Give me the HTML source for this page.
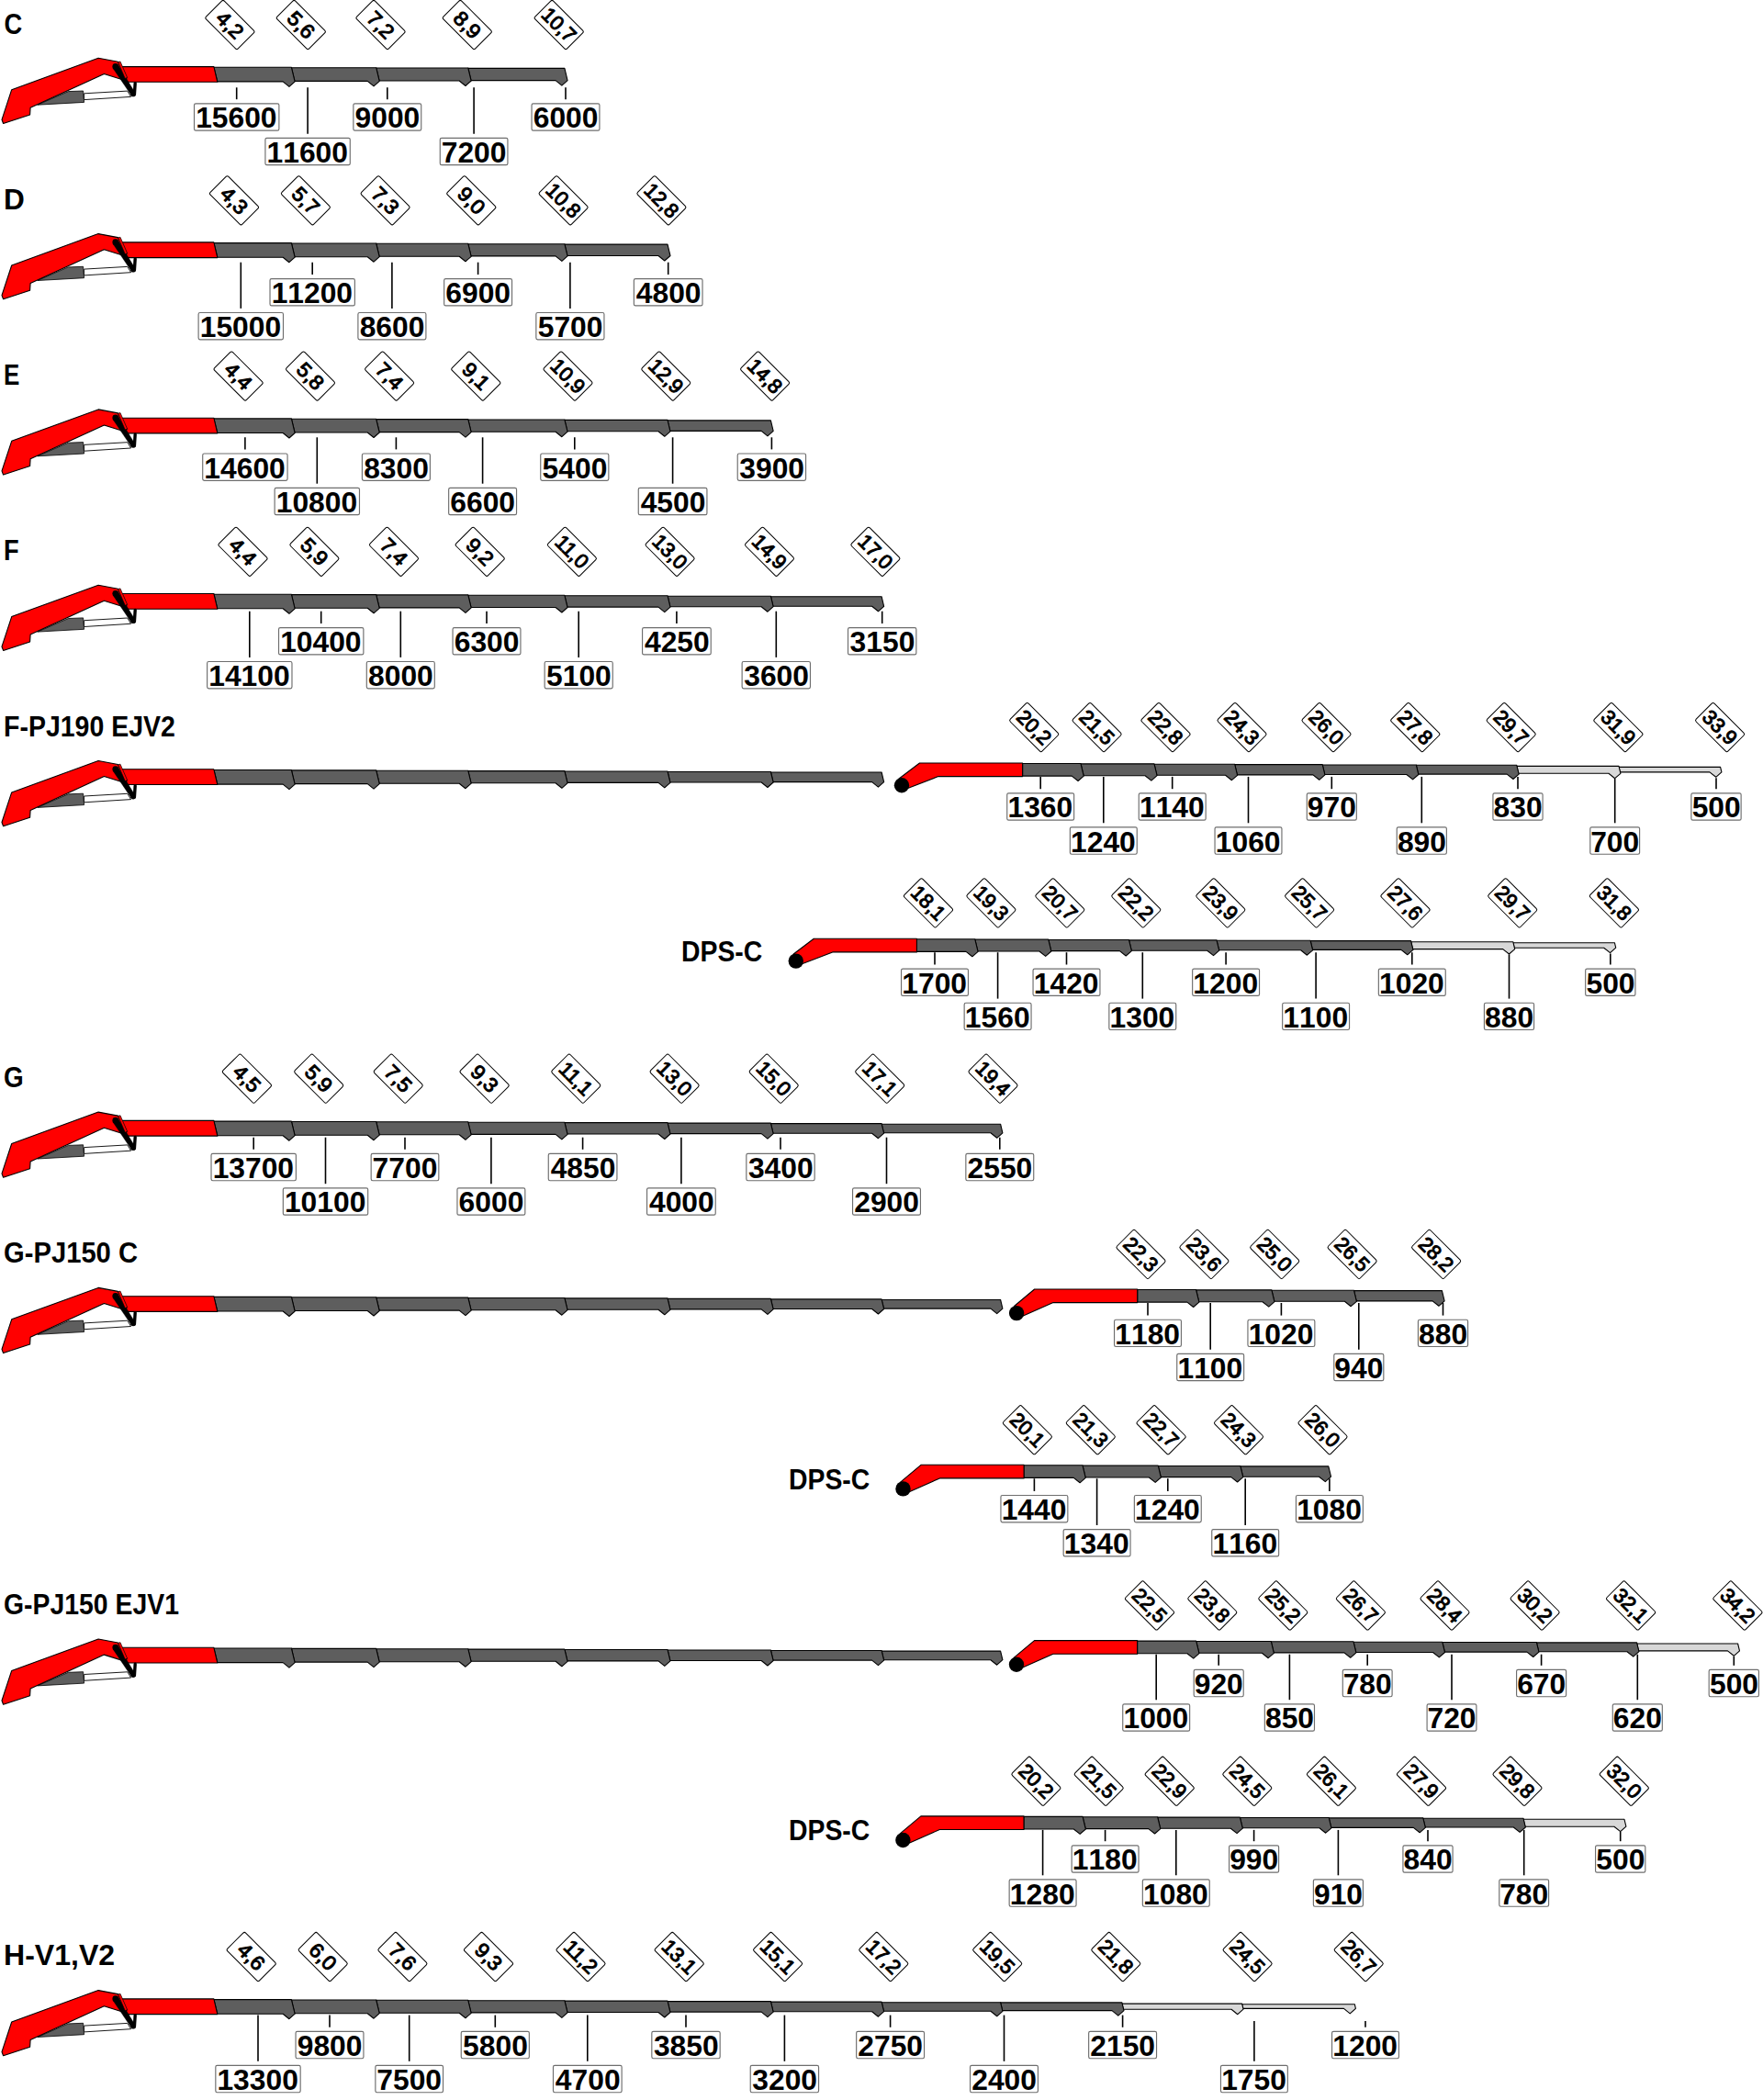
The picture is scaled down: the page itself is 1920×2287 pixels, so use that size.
<!DOCTYPE html>
<html><head><meta charset="utf-8"><title>Load chart</title>
<style>
html,body{margin:0;padding:0;background:#fff}
svg{display:block}
text{font-family:"Liberation Sans",Arial,sans-serif;fill:#000}
.t{font-weight:bold;font-size:31px}
.v{font-weight:bold;font-size:31.8px;font-kerning:none}
.d{font-size:22px;text-anchor:middle;stroke:#000;stroke-width:1.05px;stroke-linejoin:round}
</style></head><body>
<svg width="1920" height="2287" viewBox="0 0 1920 2287">
<rect width="1920" height="2287" fill="#fff"/>
<polygon points="509.8,74.4 614.9,74.4 618.07,87.6 611.87,93.1 605.07,87.6 512.97,87.6" fill="#5e5e5e" stroke="#000" stroke-width="1.1" stroke-linejoin="round"/>
<polygon points="409.7,74 509.8,74 513.16,88 506.96,93.5 500.16,88 413.06,88" fill="#5e5e5e" stroke="#000" stroke-width="1.1" stroke-linejoin="round"/>
<polygon points="317.4,73.7 409.7,73.7 413.23,88.4 407.03,93.9 400.23,88.4 320.93,88.4" fill="#5e5e5e" stroke="#000" stroke-width="1.1" stroke-linejoin="round"/>
<polygon points="232.9,73.3 317.4,73.3 321.14,88.9 314.94,94.4 308.14,88.9 236.8,88.9" fill="#5e5e5e" stroke="#000" stroke-width="1.1" stroke-linejoin="round"/>
<polygon points="40.8,114.2 74.4,99.6 90.6,99 91.6,111.4" fill="#5e5e5e" stroke="#000" stroke-width="0.8" stroke-linejoin="round"/>
<polygon points="91.6,101.8 138.8,99.1 142.6,105.4 91.6,108.6" fill="#fff" stroke="#000" stroke-width="0.9" stroke-linejoin="round"/>
<polygon points="128.4,72.6 232.9,72.6 236.8,89.3 137.5,89.3" fill="#ff0000" stroke="#000" stroke-width="1.1" stroke-linejoin="round"/>
<polygon points="2,130.3 12.7,97.7 107.1,63.3 128.4,67.3 138.2,85 132.6,86.4 113.4,80.4 33.1,117.2 32.6,125 3.6,134.5" fill="#ff0000" stroke="#000" stroke-width="1.1" stroke-linejoin="round"/>
<polygon points="122.94,74.23 142.89,103.75 147.11,101.05 128.66,70.57" fill="#000" stroke="#000" stroke-width="0.3" stroke-linejoin="round"/>
<circle cx="125.8" cy="72.4" r="3.4"/><circle cx="145" cy="102.4" r="2.8"/>
<path d="M147.2 90.6 L146.4 102.9" stroke="#000" stroke-width="3.4" stroke-linecap="round" fill="none"/>
<polygon points="128.6,67.6 131,67 138.6,84.4 136.2,85.4" fill="#ff0000" stroke="#000" stroke-width="0.7" stroke-linejoin="round"/>
<text class="t" transform="translate(4.6 36.5) scale(0.88 1)">C</text>
<g transform="translate(250.4 27) rotate(45)"><rect x="-24.6" y="-14" width="49.2" height="28" rx="2" fill="#fff" stroke="#000" stroke-width="1"/><text class="d" transform="scale(1.04 1)" y="7.6">4,2</text></g>
<path d="M257.7 95.3V108.2" stroke="#000" stroke-width="1.6"/>
<rect x="211.52" y="112.8" width="92.36" height="29.3" rx="1.7" fill="#fff" stroke="#6e6e6e" stroke-width="1.15"/>
<text class="v" x="213.13" y="139.4">15600</text>
<g transform="translate(327.8 27) rotate(45)"><rect x="-24.6" y="-14" width="49.2" height="28" rx="2" fill="#fff" stroke="#000" stroke-width="1"/><text class="d" transform="scale(1.04 1)" y="7.6">5,6</text></g>
<path d="M335.1 95.3V145.7" stroke="#000" stroke-width="1.6"/>
<rect x="288.92" y="150.3" width="92.36" height="29.3" rx="1.7" fill="#fff" stroke="#6e6e6e" stroke-width="1.15"/>
<text class="v" x="290.53" y="176.9">11600</text>
<g transform="translate(414.5 27) rotate(45)"><rect x="-24.6" y="-14" width="49.2" height="28" rx="2" fill="#fff" stroke="#000" stroke-width="1"/><text class="d" transform="scale(1.04 1)" y="7.6">7,2</text></g>
<path d="M421.8 95.3V108.2" stroke="#000" stroke-width="1.6"/>
<rect x="384.85" y="112.8" width="73.89" height="29.3" rx="1.7" fill="#fff" stroke="#6e6e6e" stroke-width="1.15"/>
<text class="v" x="386.52" y="139.4">9000</text>
<g transform="translate(508.8 27) rotate(45)"><rect x="-24.6" y="-14" width="49.2" height="28" rx="2" fill="#fff" stroke="#000" stroke-width="1"/><text class="d" transform="scale(1.04 1)" y="7.6">8,9</text></g>
<path d="M516.1 95.3V145.7" stroke="#000" stroke-width="1.6"/>
<rect x="479.26" y="150.3" width="73.67" height="29.3" rx="1.7" fill="#fff" stroke="#6e6e6e" stroke-width="1.15"/>
<text class="v" x="480.72" y="176.9">7200</text>
<g transform="translate(608.7 27) rotate(45)"><rect x="-24.6" y="-14" width="49.2" height="28" rx="2" fill="#fff" stroke="#000" stroke-width="1"/><text class="d" transform="scale(1.0 1)" y="7.6">10,7</text></g>
<path d="M616 95.3V108.2" stroke="#000" stroke-width="1.6"/>
<rect x="579.05" y="112.8" width="73.89" height="29.3" rx="1.7" fill="#fff" stroke="#6e6e6e" stroke-width="1.15"/>
<text class="v" x="580.72" y="139.4">6000</text>
<polygon points="614.9,266.1 727,266.1 729.98,278.5 723.78,284 716.98,278.5 617.88,278.5" fill="#5e5e5e" stroke="#000" stroke-width="1.1" stroke-linejoin="round"/>
<polygon points="509.8,265.7 614.9,265.7 618.07,278.9 611.87,284.4 605.07,278.9 512.97,278.9" fill="#5e5e5e" stroke="#000" stroke-width="1.1" stroke-linejoin="round"/>
<polygon points="409.7,265.3 509.8,265.3 513.16,279.3 506.96,284.8 500.16,279.3 413.06,279.3" fill="#5e5e5e" stroke="#000" stroke-width="1.1" stroke-linejoin="round"/>
<polygon points="317.4,265 409.7,265 413.23,279.7 407.03,285.2 400.23,279.7 320.93,279.7" fill="#5e5e5e" stroke="#000" stroke-width="1.1" stroke-linejoin="round"/>
<polygon points="232.9,264.6 317.4,264.6 321.14,280.2 314.94,285.7 308.14,280.2 236.8,280.2" fill="#5e5e5e" stroke="#000" stroke-width="1.1" stroke-linejoin="round"/>
<polygon points="40.8,305.5 74.4,290.9 90.6,290.3 91.6,302.7" fill="#5e5e5e" stroke="#000" stroke-width="0.8" stroke-linejoin="round"/>
<polygon points="91.6,293.1 138.8,290.4 142.6,296.7 91.6,299.9" fill="#fff" stroke="#000" stroke-width="0.9" stroke-linejoin="round"/>
<polygon points="128.4,263.9 232.9,263.9 236.8,280.6 137.5,280.6" fill="#ff0000" stroke="#000" stroke-width="1.1" stroke-linejoin="round"/>
<polygon points="2,321.6 12.7,289 107.1,254.6 128.4,258.6 138.2,276.3 132.6,277.7 113.4,271.7 33.1,308.5 32.6,316.3 3.6,325.8" fill="#ff0000" stroke="#000" stroke-width="1.1" stroke-linejoin="round"/>
<polygon points="122.94,265.53 142.89,295.05 147.11,292.35 128.66,261.87" fill="#000" stroke="#000" stroke-width="0.3" stroke-linejoin="round"/>
<circle cx="125.8" cy="263.7" r="3.4"/><circle cx="145" cy="293.7" r="2.8"/>
<path d="M147.2 281.9 L146.4 294.2" stroke="#000" stroke-width="3.4" stroke-linecap="round" fill="none"/>
<polygon points="128.6,258.9 131,258.3 138.6,275.7 136.2,276.7" fill="#ff0000" stroke="#000" stroke-width="0.7" stroke-linejoin="round"/>
<text class="t" transform="translate(4 227.77) scale(1.02 1)">D</text>
<g transform="translate(255 218.27) rotate(45)"><rect x="-24.6" y="-14" width="49.2" height="28" rx="2" fill="#fff" stroke="#000" stroke-width="1"/><text class="d" transform="scale(1.04 1)" y="7.6">4,3</text></g>
<path d="M262.3 285.7V335.9" stroke="#000" stroke-width="1.6"/>
<rect x="216.12" y="340.5" width="92.36" height="29.3" rx="1.7" fill="#fff" stroke="#6e6e6e" stroke-width="1.15"/>
<text class="v" x="217.73" y="367.1">15000</text>
<g transform="translate(332.9 218.27) rotate(45)"><rect x="-24.6" y="-14" width="49.2" height="28" rx="2" fill="#fff" stroke="#000" stroke-width="1"/><text class="d" transform="scale(1.04 1)" y="7.6">5,7</text></g>
<path d="M340.2 285.7V299" stroke="#000" stroke-width="1.6"/>
<rect x="294.02" y="303.6" width="92.36" height="29.3" rx="1.7" fill="#fff" stroke="#6e6e6e" stroke-width="1.15"/>
<text class="v" x="295.63" y="330.2">11200</text>
<g transform="translate(419.6 218.27) rotate(45)"><rect x="-24.6" y="-14" width="49.2" height="28" rx="2" fill="#fff" stroke="#000" stroke-width="1"/><text class="d" transform="scale(1.04 1)" y="7.6">7,3</text></g>
<path d="M426.9 285.7V335.9" stroke="#000" stroke-width="1.6"/>
<rect x="389.9" y="340.5" width="74" height="29.3" rx="1.7" fill="#fff" stroke="#6e6e6e" stroke-width="1.15"/>
<text class="v" x="391.67" y="367.1">8600</text>
<g transform="translate(513.3 218.27) rotate(45)"><rect x="-24.6" y="-14" width="49.2" height="28" rx="2" fill="#fff" stroke="#000" stroke-width="1"/><text class="d" transform="scale(1.04 1)" y="7.6">9,0</text></g>
<path d="M520.6 285.7V299" stroke="#000" stroke-width="1.6"/>
<rect x="483.65" y="303.6" width="73.89" height="29.3" rx="1.7" fill="#fff" stroke="#6e6e6e" stroke-width="1.15"/>
<text class="v" x="485.32" y="330.2">6900</text>
<g transform="translate(613.6 218.27) rotate(45)"><rect x="-24.6" y="-14" width="49.2" height="28" rx="2" fill="#fff" stroke="#000" stroke-width="1"/><text class="d" transform="scale(1.0 1)" y="7.6">10,8</text></g>
<path d="M620.9 285.7V335.9" stroke="#000" stroke-width="1.6"/>
<rect x="583.84" y="340.5" width="74.11" height="29.3" rx="1.7" fill="#fff" stroke="#6e6e6e" stroke-width="1.15"/>
<text class="v" x="585.72" y="367.1">5700</text>
<g transform="translate(720.4 218.27) rotate(45)"><rect x="-24.6" y="-14" width="49.2" height="28" rx="2" fill="#fff" stroke="#000" stroke-width="1"/><text class="d" transform="scale(1.0 1)" y="7.6">12,8</text></g>
<path d="M727.7 285.7V299" stroke="#000" stroke-width="1.6"/>
<rect x="690.37" y="303.6" width="74.66" height="29.3" rx="1.7" fill="#fff" stroke="#6e6e6e" stroke-width="1.15"/>
<text class="v" x="692.77" y="330.2">4800</text>
<polygon points="727,457.9 839.4,457.9 842.16,469.4 835.96,474.9 829.16,469.4 729.76,469.4" fill="#5e5e5e" stroke="#000" stroke-width="1.1" stroke-linejoin="round"/>
<polygon points="614.9,457.4 727,457.4 729.98,469.8 723.78,475.3 716.98,469.8 617.88,469.8" fill="#5e5e5e" stroke="#000" stroke-width="1.1" stroke-linejoin="round"/>
<polygon points="509.8,457 614.9,457 618.07,470.2 611.87,475.7 605.07,470.2 512.97,470.2" fill="#5e5e5e" stroke="#000" stroke-width="1.1" stroke-linejoin="round"/>
<polygon points="409.7,456.6 509.8,456.6 513.16,470.6 506.96,476.1 500.16,470.6 413.06,470.6" fill="#5e5e5e" stroke="#000" stroke-width="1.1" stroke-linejoin="round"/>
<polygon points="317.4,456.3 409.7,456.3 413.23,471 407.03,476.5 400.23,471 320.93,471" fill="#5e5e5e" stroke="#000" stroke-width="1.1" stroke-linejoin="round"/>
<polygon points="232.9,455.9 317.4,455.9 321.14,471.5 314.94,477 308.14,471.5 236.8,471.5" fill="#5e5e5e" stroke="#000" stroke-width="1.1" stroke-linejoin="round"/>
<polygon points="40.8,496.8 74.4,482.2 90.6,481.6 91.6,494" fill="#5e5e5e" stroke="#000" stroke-width="0.8" stroke-linejoin="round"/>
<polygon points="91.6,484.4 138.8,481.7 142.6,488 91.6,491.2" fill="#fff" stroke="#000" stroke-width="0.9" stroke-linejoin="round"/>
<polygon points="128.4,455.2 232.9,455.2 236.8,471.9 137.5,471.9" fill="#ff0000" stroke="#000" stroke-width="1.1" stroke-linejoin="round"/>
<polygon points="2,512.9 12.7,480.3 107.1,445.9 128.4,449.9 138.2,467.6 132.6,469 113.4,463 33.1,499.8 32.6,507.6 3.6,517.1" fill="#ff0000" stroke="#000" stroke-width="1.1" stroke-linejoin="round"/>
<polygon points="122.94,456.83 142.89,486.35 147.11,483.65 128.66,453.17" fill="#000" stroke="#000" stroke-width="0.3" stroke-linejoin="round"/>
<circle cx="125.8" cy="455" r="3.4"/><circle cx="145" cy="485" r="2.8"/>
<path d="M147.2 473.2 L146.4 485.5" stroke="#000" stroke-width="3.4" stroke-linecap="round" fill="none"/>
<polygon points="128.6,450.2 131,449.6 138.6,467 136.2,468" fill="#ff0000" stroke="#000" stroke-width="0.7" stroke-linejoin="round"/>
<text class="t" transform="translate(4 419.04) scale(0.84 1)">E</text>
<g transform="translate(259.6 409.54) rotate(45)"><rect x="-24.6" y="-14" width="49.2" height="28" rx="2" fill="#fff" stroke="#000" stroke-width="1"/><text class="d" transform="scale(1.04 1)" y="7.6">4,4</text></g>
<path d="M266.9 476.3V489.4" stroke="#000" stroke-width="1.6"/>
<rect x="220.72" y="494" width="92.36" height="29.3" rx="1.7" fill="#fff" stroke="#6e6e6e" stroke-width="1.15"/>
<text class="v" x="222.33" y="520.6">14600</text>
<g transform="translate(338 409.54) rotate(45)"><rect x="-24.6" y="-14" width="49.2" height="28" rx="2" fill="#fff" stroke="#000" stroke-width="1"/><text class="d" transform="scale(1.04 1)" y="7.6">5,8</text></g>
<path d="M345.3 476.3V526.7" stroke="#000" stroke-width="1.6"/>
<rect x="299.12" y="531.3" width="92.36" height="29.3" rx="1.7" fill="#fff" stroke="#6e6e6e" stroke-width="1.15"/>
<text class="v" x="300.73" y="557.9">10800</text>
<g transform="translate(424.1 409.54) rotate(45)"><rect x="-24.6" y="-14" width="49.2" height="28" rx="2" fill="#fff" stroke="#000" stroke-width="1"/><text class="d" transform="scale(1.04 1)" y="7.6">7,4</text></g>
<path d="M431.4 476.3V489.4" stroke="#000" stroke-width="1.6"/>
<rect x="394.4" y="494" width="74" height="29.3" rx="1.7" fill="#fff" stroke="#6e6e6e" stroke-width="1.15"/>
<text class="v" x="396.17" y="520.6">8300</text>
<g transform="translate(518.3 409.54) rotate(45)"><rect x="-24.6" y="-14" width="49.2" height="28" rx="2" fill="#fff" stroke="#000" stroke-width="1"/><text class="d" transform="scale(1.04 1)" y="7.6">9,1</text></g>
<path d="M525.6 476.3V526.7" stroke="#000" stroke-width="1.6"/>
<rect x="488.65" y="531.3" width="73.89" height="29.3" rx="1.7" fill="#fff" stroke="#6e6e6e" stroke-width="1.15"/>
<text class="v" x="490.32" y="557.9">6600</text>
<g transform="translate(618.5 409.54) rotate(45)"><rect x="-24.6" y="-14" width="49.2" height="28" rx="2" fill="#fff" stroke="#000" stroke-width="1"/><text class="d" transform="scale(1.0 1)" y="7.6">10,9</text></g>
<path d="M625.8 476.3V489.4" stroke="#000" stroke-width="1.6"/>
<rect x="588.74" y="494" width="74.11" height="29.3" rx="1.7" fill="#fff" stroke="#6e6e6e" stroke-width="1.15"/>
<text class="v" x="590.62" y="520.6">5400</text>
<g transform="translate(725.3 409.54) rotate(45)"><rect x="-24.6" y="-14" width="49.2" height="28" rx="2" fill="#fff" stroke="#000" stroke-width="1"/><text class="d" transform="scale(1.0 1)" y="7.6">12,9</text></g>
<path d="M732.6 476.3V526.7" stroke="#000" stroke-width="1.6"/>
<rect x="695.27" y="531.3" width="74.66" height="29.3" rx="1.7" fill="#fff" stroke="#6e6e6e" stroke-width="1.15"/>
<text class="v" x="697.67" y="557.9">4500</text>
<g transform="translate(833.1 409.54) rotate(45)"><rect x="-24.6" y="-14" width="49.2" height="28" rx="2" fill="#fff" stroke="#000" stroke-width="1"/><text class="d" transform="scale(1.0 1)" y="7.6">14,8</text></g>
<path d="M840.4 476.3V489.4" stroke="#000" stroke-width="1.6"/>
<rect x="803.23" y="494" width="74.33" height="29.3" rx="1.7" fill="#fff" stroke="#6e6e6e" stroke-width="1.15"/>
<text class="v" x="805.32" y="520.6">3900</text>
<polygon points="839.4,649.7 960.1,649.7 962.64,660.3 956.44,665.8 949.64,660.3 841.94,660.3" fill="#5e5e5e" stroke="#000" stroke-width="1.1" stroke-linejoin="round"/>
<polygon points="727,649.2 839.4,649.2 842.16,660.7 835.96,666.2 829.16,660.7 729.76,660.7" fill="#5e5e5e" stroke="#000" stroke-width="1.1" stroke-linejoin="round"/>
<polygon points="614.9,648.7 727,648.7 729.98,661.1 723.78,666.6 716.98,661.1 617.88,661.1" fill="#5e5e5e" stroke="#000" stroke-width="1.1" stroke-linejoin="round"/>
<polygon points="509.8,648.3 614.9,648.3 618.07,661.5 611.87,667 605.07,661.5 512.97,661.5" fill="#5e5e5e" stroke="#000" stroke-width="1.1" stroke-linejoin="round"/>
<polygon points="409.7,647.9 509.8,647.9 513.16,661.9 506.96,667.4 500.16,661.9 413.06,661.9" fill="#5e5e5e" stroke="#000" stroke-width="1.1" stroke-linejoin="round"/>
<polygon points="317.4,647.6 409.7,647.6 413.23,662.3 407.03,667.8 400.23,662.3 320.93,662.3" fill="#5e5e5e" stroke="#000" stroke-width="1.1" stroke-linejoin="round"/>
<polygon points="232.9,647.2 317.4,647.2 321.14,662.8 314.94,668.3 308.14,662.8 236.8,662.8" fill="#5e5e5e" stroke="#000" stroke-width="1.1" stroke-linejoin="round"/>
<polygon points="40.8,688.1 74.4,673.5 90.6,672.9 91.6,685.3" fill="#5e5e5e" stroke="#000" stroke-width="0.8" stroke-linejoin="round"/>
<polygon points="91.6,675.7 138.8,673 142.6,679.3 91.6,682.5" fill="#fff" stroke="#000" stroke-width="0.9" stroke-linejoin="round"/>
<polygon points="128.4,646.5 232.9,646.5 236.8,663.2 137.5,663.2" fill="#ff0000" stroke="#000" stroke-width="1.1" stroke-linejoin="round"/>
<polygon points="2,704.2 12.7,671.6 107.1,637.2 128.4,641.2 138.2,658.9 132.6,660.3 113.4,654.3 33.1,691.1 32.6,698.9 3.6,708.4" fill="#ff0000" stroke="#000" stroke-width="1.1" stroke-linejoin="round"/>
<polygon points="122.94,648.13 142.89,677.65 147.11,674.95 128.66,644.47" fill="#000" stroke="#000" stroke-width="0.3" stroke-linejoin="round"/>
<circle cx="125.8" cy="646.3" r="3.4"/><circle cx="145" cy="676.3" r="2.8"/>
<path d="M147.2 664.5 L146.4 676.8" stroke="#000" stroke-width="3.4" stroke-linecap="round" fill="none"/>
<polygon points="128.6,641.5 131,640.9 138.6,658.3 136.2,659.3" fill="#ff0000" stroke="#000" stroke-width="0.7" stroke-linejoin="round"/>
<text class="t" transform="translate(4 610.31) scale(0.88 1)">F</text>
<g transform="translate(264.5 600.81) rotate(45)"><rect x="-24.6" y="-14" width="49.2" height="28" rx="2" fill="#fff" stroke="#000" stroke-width="1"/><text class="d" transform="scale(1.04 1)" y="7.6">4,4</text></g>
<path d="M271.8 665.7V715.9" stroke="#000" stroke-width="1.6"/>
<rect x="225.62" y="720.5" width="92.36" height="29.3" rx="1.7" fill="#fff" stroke="#6e6e6e" stroke-width="1.15"/>
<text class="v" x="227.23" y="747.1">14100</text>
<g transform="translate(342.4 600.81) rotate(45)"><rect x="-24.6" y="-14" width="49.2" height="28" rx="2" fill="#fff" stroke="#000" stroke-width="1"/><text class="d" transform="scale(1.04 1)" y="7.6">5,9</text></g>
<path d="M349.7 665.7V679" stroke="#000" stroke-width="1.6"/>
<rect x="303.52" y="683.6" width="92.36" height="29.3" rx="1.7" fill="#fff" stroke="#6e6e6e" stroke-width="1.15"/>
<text class="v" x="305.13" y="710.2">10400</text>
<g transform="translate(429 600.81) rotate(45)"><rect x="-24.6" y="-14" width="49.2" height="28" rx="2" fill="#fff" stroke="#000" stroke-width="1"/><text class="d" transform="scale(1.04 1)" y="7.6">7,4</text></g>
<path d="M436.3 665.7V715.9" stroke="#000" stroke-width="1.6"/>
<rect x="399.3" y="720.5" width="74" height="29.3" rx="1.7" fill="#fff" stroke="#6e6e6e" stroke-width="1.15"/>
<text class="v" x="401.07" y="747.1">8000</text>
<g transform="translate(522.7 600.81) rotate(45)"><rect x="-24.6" y="-14" width="49.2" height="28" rx="2" fill="#fff" stroke="#000" stroke-width="1"/><text class="d" transform="scale(1.04 1)" y="7.6">9,2</text></g>
<path d="M530 665.7V679" stroke="#000" stroke-width="1.6"/>
<rect x="493.05" y="683.6" width="73.89" height="29.3" rx="1.7" fill="#fff" stroke="#6e6e6e" stroke-width="1.15"/>
<text class="v" x="494.72" y="710.2">6300</text>
<g transform="translate(622.9 600.81) rotate(45)"><rect x="-24.6" y="-14" width="49.2" height="28" rx="2" fill="#fff" stroke="#000" stroke-width="1"/><text class="d" transform="scale(1.0 1)" y="7.6">11,0</text></g>
<path d="M630.2 665.7V715.9" stroke="#000" stroke-width="1.6"/>
<rect x="593.14" y="720.5" width="74.11" height="29.3" rx="1.7" fill="#fff" stroke="#6e6e6e" stroke-width="1.15"/>
<text class="v" x="595.02" y="747.1">5100</text>
<g transform="translate(729.6 600.81) rotate(45)"><rect x="-24.6" y="-14" width="49.2" height="28" rx="2" fill="#fff" stroke="#000" stroke-width="1"/><text class="d" transform="scale(1.0 1)" y="7.6">13,0</text></g>
<path d="M736.9 665.7V679" stroke="#000" stroke-width="1.6"/>
<rect x="699.57" y="683.6" width="74.66" height="29.3" rx="1.7" fill="#fff" stroke="#6e6e6e" stroke-width="1.15"/>
<text class="v" x="701.97" y="710.2">4250</text>
<g transform="translate(838 600.81) rotate(45)"><rect x="-24.6" y="-14" width="49.2" height="28" rx="2" fill="#fff" stroke="#000" stroke-width="1"/><text class="d" transform="scale(1.0 1)" y="7.6">14,9</text></g>
<path d="M845.3 665.7V715.9" stroke="#000" stroke-width="1.6"/>
<rect x="808.13" y="720.5" width="74.33" height="29.3" rx="1.7" fill="#fff" stroke="#6e6e6e" stroke-width="1.15"/>
<text class="v" x="810.22" y="747.1">3600</text>
<g transform="translate(953.4 600.81) rotate(45)"><rect x="-24.6" y="-14" width="49.2" height="28" rx="2" fill="#fff" stroke="#000" stroke-width="1"/><text class="d" transform="scale(1.0 1)" y="7.6">17,0</text></g>
<path d="M960.7 665.7V679" stroke="#000" stroke-width="1.6"/>
<rect x="923.53" y="683.6" width="74.33" height="29.3" rx="1.7" fill="#fff" stroke="#6e6e6e" stroke-width="1.15"/>
<text class="v" x="925.62" y="710.2">3150</text>
<polygon points="839.4,841 960.1,841 962.64,851.6 956.44,857.1 949.64,851.6 841.94,851.6" fill="#5e5e5e" stroke="#000" stroke-width="1.1" stroke-linejoin="round"/>
<polygon points="727,840.5 839.4,840.5 842.16,852 835.96,857.5 829.16,852 729.76,852" fill="#5e5e5e" stroke="#000" stroke-width="1.1" stroke-linejoin="round"/>
<polygon points="614.9,840 727,840 729.98,852.4 723.78,857.9 716.98,852.4 617.88,852.4" fill="#5e5e5e" stroke="#000" stroke-width="1.1" stroke-linejoin="round"/>
<polygon points="509.8,839.6 614.9,839.6 618.07,852.8 611.87,858.3 605.07,852.8 512.97,852.8" fill="#5e5e5e" stroke="#000" stroke-width="1.1" stroke-linejoin="round"/>
<polygon points="409.7,839.2 509.8,839.2 513.16,853.2 506.96,858.7 500.16,853.2 413.06,853.2" fill="#5e5e5e" stroke="#000" stroke-width="1.1" stroke-linejoin="round"/>
<polygon points="317.4,838.9 409.7,838.9 413.23,853.6 407.03,859.1 400.23,853.6 320.93,853.6" fill="#5e5e5e" stroke="#000" stroke-width="1.1" stroke-linejoin="round"/>
<polygon points="232.9,838.5 317.4,838.5 321.14,854.1 314.94,859.6 308.14,854.1 236.8,854.1" fill="#5e5e5e" stroke="#000" stroke-width="1.1" stroke-linejoin="round"/>
<polygon points="40.8,879.4 74.4,864.8 90.6,864.2 91.6,876.6" fill="#5e5e5e" stroke="#000" stroke-width="0.8" stroke-linejoin="round"/>
<polygon points="91.6,867 138.8,864.3 142.6,870.6 91.6,873.8" fill="#fff" stroke="#000" stroke-width="0.9" stroke-linejoin="round"/>
<polygon points="128.4,837.8 232.9,837.8 236.8,854.5 137.5,854.5" fill="#ff0000" stroke="#000" stroke-width="1.1" stroke-linejoin="round"/>
<polygon points="2,895.5 12.7,862.9 107.1,828.5 128.4,832.5 138.2,850.2 132.6,851.6 113.4,845.6 33.1,882.4 32.6,890.2 3.6,899.7" fill="#ff0000" stroke="#000" stroke-width="1.1" stroke-linejoin="round"/>
<polygon points="122.94,839.43 142.89,868.95 147.11,866.25 128.66,835.77" fill="#000" stroke="#000" stroke-width="0.3" stroke-linejoin="round"/>
<circle cx="125.8" cy="837.6" r="3.4"/><circle cx="145" cy="867.6" r="2.8"/>
<path d="M147.2 855.8 L146.4 868.1" stroke="#000" stroke-width="3.4" stroke-linecap="round" fill="none"/>
<polygon points="128.6,832.8 131,832.2 138.6,849.6 136.2,850.6" fill="#ff0000" stroke="#000" stroke-width="0.7" stroke-linejoin="round"/>
<text class="t" transform="translate(4 801.58) scale(0.92 1)">F-PJ190 EJV2</text>
<polygon points="1763,835.4 1873.6,835.4 1874.92,840.9 1868.72,846.3 1861.92,840.9 1764.32,840.9" fill="#d8d8d8" stroke="#000" stroke-width="1.1" stroke-linejoin="round"/>
<polygon points="1651.8,834.4 1763,834.4 1764.9,842.3 1758.7,847.7 1751.9,842.3 1653.7,842.3" fill="#d8d8d8" stroke="#000" stroke-width="1.1" stroke-linejoin="round"/>
<polygon points="1542.3,833.3 1651.8,833.3 1654.15,843.1 1647.95,848.5 1641.15,843.1 1544.65,843.1" fill="#5e5e5e" stroke="#000" stroke-width="1.1" stroke-linejoin="round"/>
<polygon points="1440.2,832.94 1542.3,832.94 1544.83,843.5 1538.63,848.9 1531.83,843.5 1442.73,843.5" fill="#5e5e5e" stroke="#000" stroke-width="1.1" stroke-linejoin="round"/>
<polygon points="1344.7,832.58 1440.2,832.58 1442.92,843.9 1436.72,849.3 1429.92,843.9 1347.42,843.9" fill="#5e5e5e" stroke="#000" stroke-width="1.1" stroke-linejoin="round"/>
<polygon points="1257,832.22 1344.7,832.22 1347.6,844.3 1341.4,849.7 1334.6,844.3 1259.9,844.3" fill="#5e5e5e" stroke="#000" stroke-width="1.1" stroke-linejoin="round"/>
<polygon points="1177,831.86 1257,831.86 1260.08,844.7 1253.88,850.1 1247.08,844.7 1180.08,844.7" fill="#5e5e5e" stroke="#000" stroke-width="1.1" stroke-linejoin="round"/>
<polygon points="1113.6,831.5 1177,831.5 1180.26,845.1 1174.06,850.5 1167.26,845.1 1113.6,845.1" fill="#5e5e5e" stroke="#000" stroke-width="1.1" stroke-linejoin="round"/>
<polygon points="979.4,847.7 1001.5,831 1113.6,831 1113.6,845.6 1021.9,845.6 989.2,858.3" fill="#ff0000" stroke="#000" stroke-width="1.1" stroke-linejoin="round"/>
<circle cx="982" cy="855.3" r="8.2" fill="#000"/>
<g transform="translate(1126.2 792.08) rotate(45)"><rect x="-24.6" y="-14" width="49.2" height="28" rx="2" fill="#fff" stroke="#000" stroke-width="1"/><text class="d" transform="scale(1.0 1)" y="7.6">20,2</text></g>
<path d="M1133.2 845.9V859.2" stroke="#000" stroke-width="1.6"/>
<rect x="1096.75" y="863.8" width="72.9" height="29.3" rx="1.7" fill="#fff" stroke="#6e6e6e" stroke-width="1.15"/>
<text class="v" x="1097.47" y="890.4">1360</text>
<g transform="translate(1194.6 792.08) rotate(45)"><rect x="-24.6" y="-14" width="49.2" height="28" rx="2" fill="#fff" stroke="#000" stroke-width="1"/><text class="d" transform="scale(1.0 1)" y="7.6">21,5</text></g>
<path d="M1201.8 845.9V896.3" stroke="#000" stroke-width="1.6"/>
<rect x="1165.35" y="900.9" width="72.9" height="29.3" rx="1.7" fill="#fff" stroke="#6e6e6e" stroke-width="1.15"/>
<text class="v" x="1166.07" y="927.5">1240</text>
<g transform="translate(1269.5 792.08) rotate(45)"><rect x="-24.6" y="-14" width="49.2" height="28" rx="2" fill="#fff" stroke="#000" stroke-width="1"/><text class="d" transform="scale(1.0 1)" y="7.6">22,8</text></g>
<path d="M1276.7 845.9V859.2" stroke="#000" stroke-width="1.6"/>
<rect x="1240.25" y="863.8" width="72.9" height="29.3" rx="1.7" fill="#fff" stroke="#6e6e6e" stroke-width="1.15"/>
<text class="v" x="1240.97" y="890.4">1140</text>
<g transform="translate(1352.5 792.08) rotate(45)"><rect x="-24.6" y="-14" width="49.2" height="28" rx="2" fill="#fff" stroke="#000" stroke-width="1"/><text class="d" transform="scale(1.0 1)" y="7.6">24,3</text></g>
<path d="M1359.5 845.9V896.3" stroke="#000" stroke-width="1.6"/>
<rect x="1323.05" y="900.9" width="72.9" height="29.3" rx="1.7" fill="#fff" stroke="#6e6e6e" stroke-width="1.15"/>
<text class="v" x="1323.77" y="927.5">1060</text>
<g transform="translate(1444.5 792.08) rotate(45)"><rect x="-24.6" y="-14" width="49.2" height="28" rx="2" fill="#fff" stroke="#000" stroke-width="1"/><text class="d" transform="scale(1.0 1)" y="7.6">26,0</text></g>
<path d="M1450.3 845.9V859.2" stroke="#000" stroke-width="1.6"/>
<rect x="1423.28" y="863.8" width="54.04" height="29.3" rx="1.7" fill="#fff" stroke="#6e6e6e" stroke-width="1.15"/>
<text class="v" x="1423.86" y="890.4">970</text>
<g transform="translate(1541.3 792.08) rotate(45)"><rect x="-24.6" y="-14" width="49.2" height="28" rx="2" fill="#fff" stroke="#000" stroke-width="1"/><text class="d" transform="scale(1.0 1)" y="7.6">27,8</text></g>
<path d="M1548.3 845.9V896.3" stroke="#000" stroke-width="1.6"/>
<rect x="1521.23" y="900.9" width="54.15" height="29.3" rx="1.7" fill="#fff" stroke="#6e6e6e" stroke-width="1.15"/>
<text class="v" x="1521.91" y="927.5">890</text>
<g transform="translate(1645.7 792.08) rotate(45)"><rect x="-24.6" y="-14" width="49.2" height="28" rx="2" fill="#fff" stroke="#000" stroke-width="1"/><text class="d" transform="scale(1.0 1)" y="7.6">29,7</text></g>
<path d="M1653 845.9V859.2" stroke="#000" stroke-width="1.6"/>
<rect x="1625.93" y="863.8" width="54.15" height="29.3" rx="1.7" fill="#fff" stroke="#6e6e6e" stroke-width="1.15"/>
<text class="v" x="1626.61" y="890.4">830</text>
<g transform="translate(1762.4 792.08) rotate(45)"><rect x="-24.6" y="-14" width="49.2" height="28" rx="2" fill="#fff" stroke="#000" stroke-width="1"/><text class="d" transform="scale(1.0 1)" y="7.6">31,9</text></g>
<path d="M1758.7 848V896.3" stroke="#000" stroke-width="1.6"/>
<rect x="1731.79" y="900.9" width="53.82" height="29.3" rx="1.7" fill="#fff" stroke="#6e6e6e" stroke-width="1.15"/>
<text class="v" x="1732.16" y="927.5">700</text>
<g transform="translate(1873.1 792.08) rotate(45)"><rect x="-24.6" y="-14" width="49.2" height="28" rx="2" fill="#fff" stroke="#000" stroke-width="1"/><text class="d" transform="scale(1.0 1)" y="7.6">33,9</text></g>
<path d="M1869 847.2V859.2" stroke="#000" stroke-width="1.6"/>
<rect x="1841.87" y="863.8" width="54.26" height="29.3" rx="1.7" fill="#fff" stroke="#6e6e6e" stroke-width="1.15"/>
<text class="v" x="1842.66" y="890.4">500</text>
<polygon points="1647.8,1026.7 1758.4,1026.7 1759.72,1032.2 1753.52,1037.6 1746.72,1032.2 1649.12,1032.2" fill="#d8d8d8" stroke="#000" stroke-width="1.1" stroke-linejoin="round"/>
<polygon points="1536.6,1025.7 1647.8,1025.7 1649.7,1033.6 1643.5,1039 1636.7,1033.6 1538.5,1033.6" fill="#d8d8d8" stroke="#000" stroke-width="1.1" stroke-linejoin="round"/>
<polygon points="1427.1,1024.6 1536.6,1024.6 1538.95,1034.4 1532.75,1039.8 1525.95,1034.4 1429.45,1034.4" fill="#5e5e5e" stroke="#000" stroke-width="1.1" stroke-linejoin="round"/>
<polygon points="1325,1024.24 1427.1,1024.24 1429.63,1034.8 1423.43,1040.2 1416.63,1034.8 1327.53,1034.8" fill="#5e5e5e" stroke="#000" stroke-width="1.1" stroke-linejoin="round"/>
<polygon points="1229.5,1023.88 1325,1023.88 1327.72,1035.2 1321.52,1040.6 1314.72,1035.2 1232.22,1035.2" fill="#5e5e5e" stroke="#000" stroke-width="1.1" stroke-linejoin="round"/>
<polygon points="1141.8,1023.52 1229.5,1023.52 1232.4,1035.6 1226.2,1041 1219.4,1035.6 1144.7,1035.6" fill="#5e5e5e" stroke="#000" stroke-width="1.1" stroke-linejoin="round"/>
<polygon points="1061.8,1023.16 1141.8,1023.16 1144.88,1036 1138.68,1041.4 1131.88,1036 1064.88,1036" fill="#5e5e5e" stroke="#000" stroke-width="1.1" stroke-linejoin="round"/>
<polygon points="998.4,1022.8 1061.8,1022.8 1065.06,1036.4 1058.86,1041.8 1052.06,1036.4 998.4,1036.4" fill="#5e5e5e" stroke="#000" stroke-width="1.1" stroke-linejoin="round"/>
<polygon points="864.2,1039 886.3,1022.3 998.4,1022.3 998.4,1036.9 906.7,1036.9 874,1049.6" fill="#ff0000" stroke="#000" stroke-width="1.1" stroke-linejoin="round"/>
<circle cx="866.8" cy="1046.6" r="8.2" fill="#000"/>
<text class="t" transform="translate(742 1047) scale(0.915 1)">DPS-C</text>
<g transform="translate(1011 983.35) rotate(45)"><rect x="-24.6" y="-14" width="49.2" height="28" rx="2" fill="#fff" stroke="#000" stroke-width="1"/><text class="d" transform="scale(1.0 1)" y="7.6">18,1</text></g>
<path d="M1018 1037.2V1050.5" stroke="#000" stroke-width="1.6"/>
<rect x="981.55" y="1055.1" width="72.9" height="29.3" rx="1.7" fill="#fff" stroke="#6e6e6e" stroke-width="1.15"/>
<text class="v" x="982.27" y="1081.7">1700</text>
<g transform="translate(1079.4 983.35) rotate(45)"><rect x="-24.6" y="-14" width="49.2" height="28" rx="2" fill="#fff" stroke="#000" stroke-width="1"/><text class="d" transform="scale(1.0 1)" y="7.6">19,3</text></g>
<path d="M1086.6 1037.2V1087.6" stroke="#000" stroke-width="1.6"/>
<rect x="1050.15" y="1092.2" width="72.9" height="29.3" rx="1.7" fill="#fff" stroke="#6e6e6e" stroke-width="1.15"/>
<text class="v" x="1050.87" y="1118.8">1560</text>
<g transform="translate(1154.3 983.35) rotate(45)"><rect x="-24.6" y="-14" width="49.2" height="28" rx="2" fill="#fff" stroke="#000" stroke-width="1"/><text class="d" transform="scale(1.0 1)" y="7.6">20,7</text></g>
<path d="M1161.5 1037.2V1050.5" stroke="#000" stroke-width="1.6"/>
<rect x="1125.05" y="1055.1" width="72.9" height="29.3" rx="1.7" fill="#fff" stroke="#6e6e6e" stroke-width="1.15"/>
<text class="v" x="1125.77" y="1081.7">1420</text>
<g transform="translate(1237.3 983.35) rotate(45)"><rect x="-24.6" y="-14" width="49.2" height="28" rx="2" fill="#fff" stroke="#000" stroke-width="1"/><text class="d" transform="scale(1.0 1)" y="7.6">22,2</text></g>
<path d="M1244.3 1037.2V1087.6" stroke="#000" stroke-width="1.6"/>
<rect x="1207.85" y="1092.2" width="72.9" height="29.3" rx="1.7" fill="#fff" stroke="#6e6e6e" stroke-width="1.15"/>
<text class="v" x="1208.57" y="1118.8">1300</text>
<g transform="translate(1329.3 983.35) rotate(45)"><rect x="-24.6" y="-14" width="49.2" height="28" rx="2" fill="#fff" stroke="#000" stroke-width="1"/><text class="d" transform="scale(1.0 1)" y="7.6">23,9</text></g>
<path d="M1335.1 1037.2V1050.5" stroke="#000" stroke-width="1.6"/>
<rect x="1298.65" y="1055.1" width="72.9" height="29.3" rx="1.7" fill="#fff" stroke="#6e6e6e" stroke-width="1.15"/>
<text class="v" x="1299.37" y="1081.7">1200</text>
<g transform="translate(1426.1 983.35) rotate(45)"><rect x="-24.6" y="-14" width="49.2" height="28" rx="2" fill="#fff" stroke="#000" stroke-width="1"/><text class="d" transform="scale(1.0 1)" y="7.6">25,7</text></g>
<path d="M1433.1 1037.2V1087.6" stroke="#000" stroke-width="1.6"/>
<rect x="1396.65" y="1092.2" width="72.9" height="29.3" rx="1.7" fill="#fff" stroke="#6e6e6e" stroke-width="1.15"/>
<text class="v" x="1397.37" y="1118.8">1100</text>
<g transform="translate(1530.5 983.35) rotate(45)"><rect x="-24.6" y="-14" width="49.2" height="28" rx="2" fill="#fff" stroke="#000" stroke-width="1"/><text class="d" transform="scale(1.0 1)" y="7.6">27,6</text></g>
<path d="M1537.8 1037.2V1050.5" stroke="#000" stroke-width="1.6"/>
<rect x="1501.35" y="1055.1" width="72.9" height="29.3" rx="1.7" fill="#fff" stroke="#6e6e6e" stroke-width="1.15"/>
<text class="v" x="1502.07" y="1081.7">1020</text>
<g transform="translate(1647.2 983.35) rotate(45)"><rect x="-24.6" y="-14" width="49.2" height="28" rx="2" fill="#fff" stroke="#000" stroke-width="1"/><text class="d" transform="scale(1.0 1)" y="7.6">29,7</text></g>
<path d="M1643.5 1039.3V1087.6" stroke="#000" stroke-width="1.6"/>
<rect x="1616.43" y="1092.2" width="54.15" height="29.3" rx="1.7" fill="#fff" stroke="#6e6e6e" stroke-width="1.15"/>
<text class="v" x="1617.11" y="1118.8">880</text>
<g transform="translate(1757.9 983.35) rotate(45)"><rect x="-24.6" y="-14" width="49.2" height="28" rx="2" fill="#fff" stroke="#000" stroke-width="1"/><text class="d" transform="scale(1.0 1)" y="7.6">31,8</text></g>
<path d="M1753.8 1038.5V1050.5" stroke="#000" stroke-width="1.6"/>
<rect x="1726.67" y="1055.1" width="54.26" height="29.3" rx="1.7" fill="#fff" stroke="#6e6e6e" stroke-width="1.15"/>
<text class="v" x="1727.46" y="1081.7">500</text>
<polygon points="960.1,1224.2 1089.6,1224.2 1091.9,1233.8 1085.7,1239.3 1078.9,1233.8 962.4,1233.8" fill="#5e5e5e" stroke="#000" stroke-width="1.1" stroke-linejoin="round"/>
<polygon points="839.4,1223.6 960.1,1223.6 962.64,1234.2 956.44,1239.7 949.64,1234.2 841.94,1234.2" fill="#5e5e5e" stroke="#000" stroke-width="1.1" stroke-linejoin="round"/>
<polygon points="727,1223.1 839.4,1223.1 842.16,1234.6 835.96,1240.1 829.16,1234.6 729.76,1234.6" fill="#5e5e5e" stroke="#000" stroke-width="1.1" stroke-linejoin="round"/>
<polygon points="614.9,1222.6 727,1222.6 729.98,1235 723.78,1240.5 716.98,1235 617.88,1235" fill="#5e5e5e" stroke="#000" stroke-width="1.1" stroke-linejoin="round"/>
<polygon points="509.8,1222.2 614.9,1222.2 618.07,1235.4 611.87,1240.9 605.07,1235.4 512.97,1235.4" fill="#5e5e5e" stroke="#000" stroke-width="1.1" stroke-linejoin="round"/>
<polygon points="409.7,1221.8 509.8,1221.8 513.16,1235.8 506.96,1241.3 500.16,1235.8 413.06,1235.8" fill="#5e5e5e" stroke="#000" stroke-width="1.1" stroke-linejoin="round"/>
<polygon points="317.4,1221.5 409.7,1221.5 413.23,1236.2 407.03,1241.7 400.23,1236.2 320.93,1236.2" fill="#5e5e5e" stroke="#000" stroke-width="1.1" stroke-linejoin="round"/>
<polygon points="232.9,1221.1 317.4,1221.1 321.14,1236.7 314.94,1242.2 308.14,1236.7 236.8,1236.7" fill="#5e5e5e" stroke="#000" stroke-width="1.1" stroke-linejoin="round"/>
<polygon points="40.8,1262 74.4,1247.4 90.6,1246.8 91.6,1259.2" fill="#5e5e5e" stroke="#000" stroke-width="0.8" stroke-linejoin="round"/>
<polygon points="91.6,1249.6 138.8,1246.9 142.6,1253.2 91.6,1256.4" fill="#fff" stroke="#000" stroke-width="0.9" stroke-linejoin="round"/>
<polygon points="128.4,1220.4 232.9,1220.4 236.8,1237.1 137.5,1237.1" fill="#ff0000" stroke="#000" stroke-width="1.1" stroke-linejoin="round"/>
<polygon points="2,1278.1 12.7,1245.5 107.1,1211.1 128.4,1215.1 138.2,1232.8 132.6,1234.2 113.4,1228.2 33.1,1265 32.6,1272.8 3.6,1282.3" fill="#ff0000" stroke="#000" stroke-width="1.1" stroke-linejoin="round"/>
<polygon points="122.94,1222.03 142.89,1251.55 147.11,1248.85 128.66,1218.37" fill="#000" stroke="#000" stroke-width="0.3" stroke-linejoin="round"/>
<circle cx="125.8" cy="1220.2" r="3.4"/><circle cx="145" cy="1250.2" r="2.8"/>
<path d="M147.2 1238.4 L146.4 1250.7" stroke="#000" stroke-width="3.4" stroke-linecap="round" fill="none"/>
<polygon points="128.6,1215.4 131,1214.8 138.6,1232.2 136.2,1233.2" fill="#ff0000" stroke="#000" stroke-width="0.7" stroke-linejoin="round"/>
<text class="t" transform="translate(4 1184.12) scale(0.9 1)">G</text>
<g transform="translate(268.9 1174.62) rotate(45)"><rect x="-24.6" y="-14" width="49.2" height="28" rx="2" fill="#fff" stroke="#000" stroke-width="1"/><text class="d" transform="scale(1.04 1)" y="7.6">4,5</text></g>
<path d="M276.2 1238.7V1251.8" stroke="#000" stroke-width="1.6"/>
<rect x="230.02" y="1256.4" width="92.36" height="29.3" rx="1.7" fill="#fff" stroke="#6e6e6e" stroke-width="1.15"/>
<text class="v" x="231.63" y="1283">13700</text>
<g transform="translate(347.2 1174.62) rotate(45)"><rect x="-24.6" y="-14" width="49.2" height="28" rx="2" fill="#fff" stroke="#000" stroke-width="1"/><text class="d" transform="scale(1.04 1)" y="7.6">5,9</text></g>
<path d="M354.5 1238.7V1289.2" stroke="#000" stroke-width="1.6"/>
<rect x="308.32" y="1293.8" width="92.36" height="29.3" rx="1.7" fill="#fff" stroke="#6e6e6e" stroke-width="1.15"/>
<text class="v" x="309.93" y="1320.4">10100</text>
<g transform="translate(433.7 1174.62) rotate(45)"><rect x="-24.6" y="-14" width="49.2" height="28" rx="2" fill="#fff" stroke="#000" stroke-width="1"/><text class="d" transform="scale(1.04 1)" y="7.6">7,5</text></g>
<path d="M441 1238.7V1251.8" stroke="#000" stroke-width="1.6"/>
<rect x="404.16" y="1256.4" width="73.67" height="29.3" rx="1.7" fill="#fff" stroke="#6e6e6e" stroke-width="1.15"/>
<text class="v" x="405.62" y="1283">7700</text>
<g transform="translate(527.6 1174.62) rotate(45)"><rect x="-24.6" y="-14" width="49.2" height="28" rx="2" fill="#fff" stroke="#000" stroke-width="1"/><text class="d" transform="scale(1.04 1)" y="7.6">9,3</text></g>
<path d="M534.9 1238.7V1289.2" stroke="#000" stroke-width="1.6"/>
<rect x="497.95" y="1293.8" width="73.89" height="29.3" rx="1.7" fill="#fff" stroke="#6e6e6e" stroke-width="1.15"/>
<text class="v" x="499.62" y="1320.4">6000</text>
<g transform="translate(627.3 1174.62) rotate(45)"><rect x="-24.6" y="-14" width="49.2" height="28" rx="2" fill="#fff" stroke="#000" stroke-width="1"/><text class="d" transform="scale(1.0 1)" y="7.6">11,1</text></g>
<path d="M634.6 1238.7V1251.8" stroke="#000" stroke-width="1.6"/>
<rect x="597.27" y="1256.4" width="74.66" height="29.3" rx="1.7" fill="#fff" stroke="#6e6e6e" stroke-width="1.15"/>
<text class="v" x="599.67" y="1283">4850</text>
<g transform="translate(734.6 1174.62) rotate(45)"><rect x="-24.6" y="-14" width="49.2" height="28" rx="2" fill="#fff" stroke="#000" stroke-width="1"/><text class="d" transform="scale(1.0 1)" y="7.6">13,0</text></g>
<path d="M741.9 1238.7V1289.2" stroke="#000" stroke-width="1.6"/>
<rect x="704.57" y="1293.8" width="74.66" height="29.3" rx="1.7" fill="#fff" stroke="#6e6e6e" stroke-width="1.15"/>
<text class="v" x="706.97" y="1320.4">4000</text>
<g transform="translate(842.7 1174.62) rotate(45)"><rect x="-24.6" y="-14" width="49.2" height="28" rx="2" fill="#fff" stroke="#000" stroke-width="1"/><text class="d" transform="scale(1.0 1)" y="7.6">15,0</text></g>
<path d="M850 1238.7V1251.8" stroke="#000" stroke-width="1.6"/>
<rect x="812.83" y="1256.4" width="74.33" height="29.3" rx="1.7" fill="#fff" stroke="#6e6e6e" stroke-width="1.15"/>
<text class="v" x="814.92" y="1283">3400</text>
<g transform="translate(958.2 1174.62) rotate(45)"><rect x="-24.6" y="-14" width="49.2" height="28" rx="2" fill="#fff" stroke="#000" stroke-width="1"/><text class="d" transform="scale(1.0 1)" y="7.6">17,1</text></g>
<path d="M965.5 1238.7V1289.2" stroke="#000" stroke-width="1.6"/>
<rect x="928.55" y="1293.8" width="73.89" height="29.3" rx="1.7" fill="#fff" stroke="#6e6e6e" stroke-width="1.15"/>
<text class="v" x="930.22" y="1320.4">2900</text>
<g transform="translate(1081.5 1174.62) rotate(45)"><rect x="-24.6" y="-14" width="49.2" height="28" rx="2" fill="#fff" stroke="#000" stroke-width="1"/><text class="d" transform="scale(1.0 1)" y="7.6">19,4</text></g>
<path d="M1088.8 1238.7V1251.8" stroke="#000" stroke-width="1.6"/>
<rect x="1051.85" y="1256.4" width="73.89" height="29.3" rx="1.7" fill="#fff" stroke="#6e6e6e" stroke-width="1.15"/>
<text class="v" x="1053.52" y="1283">2550</text>
<polygon points="960.1,1415.5 1089.6,1415.5 1091.9,1425.1 1085.7,1430.6 1078.9,1425.1 962.4,1425.1" fill="#5e5e5e" stroke="#000" stroke-width="1.1" stroke-linejoin="round"/>
<polygon points="839.4,1414.9 960.1,1414.9 962.64,1425.5 956.44,1431 949.64,1425.5 841.94,1425.5" fill="#5e5e5e" stroke="#000" stroke-width="1.1" stroke-linejoin="round"/>
<polygon points="727,1414.4 839.4,1414.4 842.16,1425.9 835.96,1431.4 829.16,1425.9 729.76,1425.9" fill="#5e5e5e" stroke="#000" stroke-width="1.1" stroke-linejoin="round"/>
<polygon points="614.9,1413.9 727,1413.9 729.98,1426.3 723.78,1431.8 716.98,1426.3 617.88,1426.3" fill="#5e5e5e" stroke="#000" stroke-width="1.1" stroke-linejoin="round"/>
<polygon points="509.8,1413.5 614.9,1413.5 618.07,1426.7 611.87,1432.2 605.07,1426.7 512.97,1426.7" fill="#5e5e5e" stroke="#000" stroke-width="1.1" stroke-linejoin="round"/>
<polygon points="409.7,1413.1 509.8,1413.1 513.16,1427.1 506.96,1432.6 500.16,1427.1 413.06,1427.1" fill="#5e5e5e" stroke="#000" stroke-width="1.1" stroke-linejoin="round"/>
<polygon points="317.4,1412.8 409.7,1412.8 413.23,1427.5 407.03,1433 400.23,1427.5 320.93,1427.5" fill="#5e5e5e" stroke="#000" stroke-width="1.1" stroke-linejoin="round"/>
<polygon points="232.9,1412.4 317.4,1412.4 321.14,1428 314.94,1433.5 308.14,1428 236.8,1428" fill="#5e5e5e" stroke="#000" stroke-width="1.1" stroke-linejoin="round"/>
<polygon points="40.8,1453.3 74.4,1438.7 90.6,1438.1 91.6,1450.5" fill="#5e5e5e" stroke="#000" stroke-width="0.8" stroke-linejoin="round"/>
<polygon points="91.6,1440.9 138.8,1438.2 142.6,1444.5 91.6,1447.7" fill="#fff" stroke="#000" stroke-width="0.9" stroke-linejoin="round"/>
<polygon points="128.4,1411.7 232.9,1411.7 236.8,1428.4 137.5,1428.4" fill="#ff0000" stroke="#000" stroke-width="1.1" stroke-linejoin="round"/>
<polygon points="2,1469.4 12.7,1436.8 107.1,1402.4 128.4,1406.4 138.2,1424.1 132.6,1425.5 113.4,1419.5 33.1,1456.3 32.6,1464.1 3.6,1473.6" fill="#ff0000" stroke="#000" stroke-width="1.1" stroke-linejoin="round"/>
<polygon points="122.94,1413.33 142.89,1442.85 147.11,1440.15 128.66,1409.67" fill="#000" stroke="#000" stroke-width="0.3" stroke-linejoin="round"/>
<circle cx="125.8" cy="1411.5" r="3.4"/><circle cx="145" cy="1441.5" r="2.8"/>
<path d="M147.2 1429.7 L146.4 1442" stroke="#000" stroke-width="3.4" stroke-linecap="round" fill="none"/>
<polygon points="128.6,1406.7 131,1406.1 138.6,1423.5 136.2,1424.5" fill="#ff0000" stroke="#000" stroke-width="0.7" stroke-linejoin="round"/>
<text class="t" transform="translate(4 1375.39) scale(0.942 1)">G-PJ150 C</text>
<polygon points="1474.5,1405.58 1570.4,1405.58 1573.12,1416.9 1566.92,1422.3 1560.12,1416.9 1477.22,1416.9" fill="#5e5e5e" stroke="#000" stroke-width="1.1" stroke-linejoin="round"/>
<polygon points="1384.9,1405.22 1474.5,1405.22 1477.4,1417.3 1471.2,1422.7 1464.4,1417.3 1387.8,1417.3" fill="#5e5e5e" stroke="#000" stroke-width="1.1" stroke-linejoin="round"/>
<polygon points="1302.6,1404.86 1384.9,1404.86 1387.98,1417.7 1381.78,1423.1 1374.98,1417.7 1305.68,1417.7" fill="#5e5e5e" stroke="#000" stroke-width="1.1" stroke-linejoin="round"/>
<polygon points="1238.7,1404.5 1302.6,1404.5 1305.86,1418.1 1299.66,1423.5 1292.86,1418.1 1238.7,1418.1" fill="#5e5e5e" stroke="#000" stroke-width="1.1" stroke-linejoin="round"/>
<polygon points="1104.5,1422.5 1126.6,1404 1238.7,1404 1238.7,1418.6 1147,1418.6 1114.3,1433.1" fill="#ff0000" stroke="#000" stroke-width="1.1" stroke-linejoin="round"/>
<circle cx="1107.1" cy="1430.1" r="8.2" fill="#000"/>
<g transform="translate(1242.5 1365.89) rotate(45)"><rect x="-24.6" y="-14" width="49.2" height="28" rx="2" fill="#fff" stroke="#000" stroke-width="1"/><text class="d" transform="scale(1.0 1)" y="7.6">22,3</text></g>
<path d="M1250 1419V1432.6" stroke="#000" stroke-width="1.6"/>
<rect x="1213.55" y="1437.2" width="72.9" height="29.3" rx="1.7" fill="#fff" stroke="#6e6e6e" stroke-width="1.15"/>
<text class="v" x="1214.27" y="1463.8">1180</text>
<g transform="translate(1311.4 1365.89) rotate(45)"><rect x="-24.6" y="-14" width="49.2" height="28" rx="2" fill="#fff" stroke="#000" stroke-width="1"/><text class="d" transform="scale(1.0 1)" y="7.6">23,6</text></g>
<path d="M1318.2 1419V1469.7" stroke="#000" stroke-width="1.6"/>
<rect x="1281.75" y="1474.3" width="72.9" height="29.3" rx="1.7" fill="#fff" stroke="#6e6e6e" stroke-width="1.15"/>
<text class="v" x="1282.47" y="1500.9">1100</text>
<g transform="translate(1388.2 1365.89) rotate(45)"><rect x="-24.6" y="-14" width="49.2" height="28" rx="2" fill="#fff" stroke="#000" stroke-width="1"/><text class="d" transform="scale(1.0 1)" y="7.6">25,0</text></g>
<path d="M1395.4 1419V1432.6" stroke="#000" stroke-width="1.6"/>
<rect x="1358.95" y="1437.2" width="72.9" height="29.3" rx="1.7" fill="#fff" stroke="#6e6e6e" stroke-width="1.15"/>
<text class="v" x="1359.67" y="1463.8">1020</text>
<g transform="translate(1472.6 1365.89) rotate(45)"><rect x="-24.6" y="-14" width="49.2" height="28" rx="2" fill="#fff" stroke="#000" stroke-width="1"/><text class="d" transform="scale(1.0 1)" y="7.6">26,5</text></g>
<path d="M1479.8 1419V1469.7" stroke="#000" stroke-width="1.6"/>
<rect x="1452.78" y="1474.3" width="54.04" height="29.3" rx="1.7" fill="#fff" stroke="#6e6e6e" stroke-width="1.15"/>
<text class="v" x="1453.36" y="1500.9">940</text>
<g transform="translate(1564.1 1365.89) rotate(45)"><rect x="-24.6" y="-14" width="49.2" height="28" rx="2" fill="#fff" stroke="#000" stroke-width="1"/><text class="d" transform="scale(1.0 1)" y="7.6">28,2</text></g>
<path d="M1571.5 1419V1432.6" stroke="#000" stroke-width="1.6"/>
<rect x="1544.43" y="1437.2" width="54.15" height="29.3" rx="1.7" fill="#fff" stroke="#6e6e6e" stroke-width="1.15"/>
<text class="v" x="1545.11" y="1463.8">880</text>
<polygon points="1350.9,1596.88 1446.8,1596.88 1449.52,1608.2 1443.32,1613.6 1436.52,1608.2 1353.62,1608.2" fill="#5e5e5e" stroke="#000" stroke-width="1.1" stroke-linejoin="round"/>
<polygon points="1261.3,1596.52 1350.9,1596.52 1353.8,1608.6 1347.6,1614 1340.8,1608.6 1264.2,1608.6" fill="#5e5e5e" stroke="#000" stroke-width="1.1" stroke-linejoin="round"/>
<polygon points="1179,1596.16 1261.3,1596.16 1264.38,1609 1258.18,1614.4 1251.38,1609 1182.08,1609" fill="#5e5e5e" stroke="#000" stroke-width="1.1" stroke-linejoin="round"/>
<polygon points="1115.1,1595.8 1179,1595.8 1182.26,1609.4 1176.06,1614.8 1169.26,1609.4 1115.1,1609.4" fill="#5e5e5e" stroke="#000" stroke-width="1.1" stroke-linejoin="round"/>
<polygon points="980.9,1613.8 1003,1595.3 1115.1,1595.3 1115.1,1609.9 1023.4,1609.9 990.7,1624.4" fill="#ff0000" stroke="#000" stroke-width="1.1" stroke-linejoin="round"/>
<circle cx="983.5" cy="1621.4" r="8.2" fill="#000"/>
<text class="t" transform="translate(859 1621.6) scale(0.915 1)">DPS-C</text>
<g transform="translate(1118.9 1557.16) rotate(45)"><rect x="-24.6" y="-14" width="49.2" height="28" rx="2" fill="#fff" stroke="#000" stroke-width="1"/><text class="d" transform="scale(1.0 1)" y="7.6">20,1</text></g>
<path d="M1126.4 1610.3V1623.9" stroke="#000" stroke-width="1.6"/>
<rect x="1089.95" y="1628.5" width="72.9" height="29.3" rx="1.7" fill="#fff" stroke="#6e6e6e" stroke-width="1.15"/>
<text class="v" x="1090.67" y="1655.1">1440</text>
<g transform="translate(1187.8 1557.16) rotate(45)"><rect x="-24.6" y="-14" width="49.2" height="28" rx="2" fill="#fff" stroke="#000" stroke-width="1"/><text class="d" transform="scale(1.0 1)" y="7.6">21,3</text></g>
<path d="M1194.6 1610.3V1661" stroke="#000" stroke-width="1.6"/>
<rect x="1158.15" y="1665.6" width="72.9" height="29.3" rx="1.7" fill="#fff" stroke="#6e6e6e" stroke-width="1.15"/>
<text class="v" x="1158.87" y="1692.2">1340</text>
<g transform="translate(1264.6 1557.16) rotate(45)"><rect x="-24.6" y="-14" width="49.2" height="28" rx="2" fill="#fff" stroke="#000" stroke-width="1"/><text class="d" transform="scale(1.0 1)" y="7.6">22,7</text></g>
<path d="M1271.8 1610.3V1623.9" stroke="#000" stroke-width="1.6"/>
<rect x="1235.35" y="1628.5" width="72.9" height="29.3" rx="1.7" fill="#fff" stroke="#6e6e6e" stroke-width="1.15"/>
<text class="v" x="1236.07" y="1655.1">1240</text>
<g transform="translate(1349 1557.16) rotate(45)"><rect x="-24.6" y="-14" width="49.2" height="28" rx="2" fill="#fff" stroke="#000" stroke-width="1"/><text class="d" transform="scale(1.0 1)" y="7.6">24,3</text></g>
<path d="M1356.2 1610.3V1661" stroke="#000" stroke-width="1.6"/>
<rect x="1319.75" y="1665.6" width="72.9" height="29.3" rx="1.7" fill="#fff" stroke="#6e6e6e" stroke-width="1.15"/>
<text class="v" x="1320.47" y="1692.2">1160</text>
<g transform="translate(1440.5 1557.16) rotate(45)"><rect x="-24.6" y="-14" width="49.2" height="28" rx="2" fill="#fff" stroke="#000" stroke-width="1"/><text class="d" transform="scale(1.0 1)" y="7.6">26,0</text></g>
<path d="M1447.9 1610.3V1623.9" stroke="#000" stroke-width="1.6"/>
<rect x="1411.45" y="1628.5" width="72.9" height="29.3" rx="1.7" fill="#fff" stroke="#6e6e6e" stroke-width="1.15"/>
<text class="v" x="1412.17" y="1655.1">1080</text>
<polygon points="960.1,1798.1 1089.6,1798.1 1091.9,1807.7 1085.7,1813.2 1078.9,1807.7 962.4,1807.7" fill="#5e5e5e" stroke="#000" stroke-width="1.1" stroke-linejoin="round"/>
<polygon points="839.4,1797.5 960.1,1797.5 962.64,1808.1 956.44,1813.6 949.64,1808.1 841.94,1808.1" fill="#5e5e5e" stroke="#000" stroke-width="1.1" stroke-linejoin="round"/>
<polygon points="727,1797 839.4,1797 842.16,1808.5 835.96,1814 829.16,1808.5 729.76,1808.5" fill="#5e5e5e" stroke="#000" stroke-width="1.1" stroke-linejoin="round"/>
<polygon points="614.9,1796.5 727,1796.5 729.98,1808.9 723.78,1814.4 716.98,1808.9 617.88,1808.9" fill="#5e5e5e" stroke="#000" stroke-width="1.1" stroke-linejoin="round"/>
<polygon points="509.8,1796.1 614.9,1796.1 618.07,1809.3 611.87,1814.8 605.07,1809.3 512.97,1809.3" fill="#5e5e5e" stroke="#000" stroke-width="1.1" stroke-linejoin="round"/>
<polygon points="409.7,1795.7 509.8,1795.7 513.16,1809.7 506.96,1815.2 500.16,1809.7 413.06,1809.7" fill="#5e5e5e" stroke="#000" stroke-width="1.1" stroke-linejoin="round"/>
<polygon points="317.4,1795.4 409.7,1795.4 413.23,1810.1 407.03,1815.6 400.23,1810.1 320.93,1810.1" fill="#5e5e5e" stroke="#000" stroke-width="1.1" stroke-linejoin="round"/>
<polygon points="232.9,1795 317.4,1795 321.14,1810.6 314.94,1816.1 308.14,1810.6 236.8,1810.6" fill="#5e5e5e" stroke="#000" stroke-width="1.1" stroke-linejoin="round"/>
<polygon points="40.8,1835.9 74.4,1821.3 90.6,1820.7 91.6,1833.1" fill="#5e5e5e" stroke="#000" stroke-width="0.8" stroke-linejoin="round"/>
<polygon points="91.6,1823.5 138.8,1820.8 142.6,1827.1 91.6,1830.3" fill="#fff" stroke="#000" stroke-width="0.9" stroke-linejoin="round"/>
<polygon points="128.4,1794.3 232.9,1794.3 236.8,1811 137.5,1811" fill="#ff0000" stroke="#000" stroke-width="1.1" stroke-linejoin="round"/>
<polygon points="2,1852 12.7,1819.4 107.1,1785 128.4,1789 138.2,1806.7 132.6,1808.1 113.4,1802.1 33.1,1838.9 32.6,1846.7 3.6,1856.2" fill="#ff0000" stroke="#000" stroke-width="1.1" stroke-linejoin="round"/>
<polygon points="122.94,1795.93 142.89,1825.45 147.11,1822.75 128.66,1792.27" fill="#000" stroke="#000" stroke-width="0.3" stroke-linejoin="round"/>
<circle cx="125.8" cy="1794.1" r="3.4"/><circle cx="145" cy="1824.1" r="2.8"/>
<path d="M147.2 1812.3 L146.4 1824.6" stroke="#000" stroke-width="3.4" stroke-linecap="round" fill="none"/>
<polygon points="128.6,1789.3 131,1788.7 138.6,1806.1 136.2,1807.1" fill="#ff0000" stroke="#000" stroke-width="0.7" stroke-linejoin="round"/>
<text class="t" transform="translate(4 1757.93) scale(0.916 1)">G-PJ150 EJV1</text>
<polygon points="1782.6,1790 1892.6,1790 1894.5,1797.9 1888.3,1803.3 1881.5,1797.9 1784.5,1797.9" fill="#d8d8d8" stroke="#000" stroke-width="1.1" stroke-linejoin="round"/>
<polygon points="1673.4,1788.9 1782.6,1788.9 1784.95,1798.7 1778.75,1804.1 1771.95,1798.7 1675.75,1798.7" fill="#5e5e5e" stroke="#000" stroke-width="1.1" stroke-linejoin="round"/>
<polygon points="1570.8,1788.54 1673.4,1788.54 1675.93,1799.1 1669.73,1804.5 1662.93,1799.1 1573.33,1799.1" fill="#5e5e5e" stroke="#000" stroke-width="1.1" stroke-linejoin="round"/>
<polygon points="1474,1788.18 1570.8,1788.18 1573.52,1799.5 1567.32,1804.9 1560.52,1799.5 1476.72,1799.5" fill="#5e5e5e" stroke="#000" stroke-width="1.1" stroke-linejoin="round"/>
<polygon points="1384.3,1787.82 1474,1787.82 1476.9,1799.9 1470.7,1805.3 1463.9,1799.9 1387.2,1799.9" fill="#5e5e5e" stroke="#000" stroke-width="1.1" stroke-linejoin="round"/>
<polygon points="1302.7,1787.46 1384.3,1787.46 1387.38,1800.3 1381.18,1805.7 1374.38,1800.3 1305.78,1800.3" fill="#5e5e5e" stroke="#000" stroke-width="1.1" stroke-linejoin="round"/>
<polygon points="1238.6,1787.1 1302.7,1787.1 1305.96,1800.7 1299.76,1806.1 1292.96,1800.7 1238.6,1800.7" fill="#5e5e5e" stroke="#000" stroke-width="1.1" stroke-linejoin="round"/>
<polygon points="1104.4,1805.1 1126.5,1786.6 1238.6,1786.6 1238.6,1801.2 1146.9,1801.2 1114.2,1815.7" fill="#ff0000" stroke="#000" stroke-width="1.1" stroke-linejoin="round"/>
<circle cx="1107" cy="1812.7" r="8.2" fill="#000"/>
<g transform="translate(1252 1748.43) rotate(45)"><rect x="-24.6" y="-14" width="49.2" height="28" rx="2" fill="#fff" stroke="#000" stroke-width="1"/><text class="d" transform="scale(1.0 1)" y="7.6">22,5</text></g>
<path d="M1259.2 1801.7V1851.2" stroke="#000" stroke-width="1.6"/>
<rect x="1222.75" y="1855.8" width="72.9" height="29.3" rx="1.7" fill="#fff" stroke="#6e6e6e" stroke-width="1.15"/>
<text class="v" x="1223.47" y="1882.4">1000</text>
<g transform="translate(1320.3 1748.43) rotate(45)"><rect x="-24.6" y="-14" width="49.2" height="28" rx="2" fill="#fff" stroke="#000" stroke-width="1"/><text class="d" transform="scale(1.0 1)" y="7.6">23,8</text></g>
<path d="M1327.2 1801.7V1813.8" stroke="#000" stroke-width="1.6"/>
<rect x="1300.18" y="1818.4" width="54.04" height="29.3" rx="1.7" fill="#fff" stroke="#6e6e6e" stroke-width="1.15"/>
<text class="v" x="1300.76" y="1845">920</text>
<g transform="translate(1397.3 1748.43) rotate(45)"><rect x="-24.6" y="-14" width="49.2" height="28" rx="2" fill="#fff" stroke="#000" stroke-width="1"/><text class="d" transform="scale(1.0 1)" y="7.6">25,2</text></g>
<path d="M1404.4 1801.7V1851.2" stroke="#000" stroke-width="1.6"/>
<rect x="1377.33" y="1855.8" width="54.15" height="29.3" rx="1.7" fill="#fff" stroke="#6e6e6e" stroke-width="1.15"/>
<text class="v" x="1378.01" y="1882.4">850</text>
<g transform="translate(1481.9 1748.43) rotate(45)"><rect x="-24.6" y="-14" width="49.2" height="28" rx="2" fill="#fff" stroke="#000" stroke-width="1"/><text class="d" transform="scale(1.0 1)" y="7.6">26,7</text></g>
<path d="M1489.2 1801.7V1813.8" stroke="#000" stroke-width="1.6"/>
<rect x="1462.29" y="1818.4" width="53.82" height="29.3" rx="1.7" fill="#fff" stroke="#6e6e6e" stroke-width="1.15"/>
<text class="v" x="1462.66" y="1845">780</text>
<g transform="translate(1573.5 1748.43) rotate(45)"><rect x="-24.6" y="-14" width="49.2" height="28" rx="2" fill="#fff" stroke="#000" stroke-width="1"/><text class="d" transform="scale(1.0 1)" y="7.6">28,4</text></g>
<path d="M1581 1801.7V1851.2" stroke="#000" stroke-width="1.6"/>
<rect x="1554.09" y="1855.8" width="53.82" height="29.3" rx="1.7" fill="#fff" stroke="#6e6e6e" stroke-width="1.15"/>
<text class="v" x="1554.46" y="1882.4">720</text>
<g transform="translate(1671.6 1748.43) rotate(45)"><rect x="-24.6" y="-14" width="49.2" height="28" rx="2" fill="#fff" stroke="#000" stroke-width="1"/><text class="d" transform="scale(1.0 1)" y="7.6">30,2</text></g>
<path d="M1678.6 1801.7V1813.8" stroke="#000" stroke-width="1.6"/>
<rect x="1651.58" y="1818.4" width="54.04" height="29.3" rx="1.7" fill="#fff" stroke="#6e6e6e" stroke-width="1.15"/>
<text class="v" x="1652.16" y="1845">670</text>
<g transform="translate(1776.1 1748.43) rotate(45)"><rect x="-24.6" y="-14" width="49.2" height="28" rx="2" fill="#fff" stroke="#000" stroke-width="1"/><text class="d" transform="scale(1.0 1)" y="7.6">32,1</text></g>
<path d="M1783.3 1801.7V1851.2" stroke="#000" stroke-width="1.6"/>
<rect x="1756.28" y="1855.8" width="54.04" height="29.3" rx="1.7" fill="#fff" stroke="#6e6e6e" stroke-width="1.15"/>
<text class="v" x="1756.86" y="1882.4">620</text>
<g transform="translate(1892.4 1748.43) rotate(45)"><rect x="-24.6" y="-14" width="49.2" height="28" rx="2" fill="#fff" stroke="#000" stroke-width="1"/><text class="d" transform="scale(1.0 1)" y="7.6">34,2</text></g>
<path d="M1888.3 1803.8V1813.8" stroke="#000" stroke-width="1.6"/>
<rect x="1861.17" y="1818.4" width="54.26" height="29.3" rx="1.7" fill="#fff" stroke="#6e6e6e" stroke-width="1.15"/>
<text class="v" x="1861.96" y="1845">500</text>
<polygon points="1659,1981.3 1769,1981.3 1770.9,1989.2 1764.7,1994.6 1757.9,1989.2 1660.9,1989.2" fill="#d8d8d8" stroke="#000" stroke-width="1.1" stroke-linejoin="round"/>
<polygon points="1549.8,1980.2 1659,1980.2 1661.35,1990 1655.15,1995.4 1648.35,1990 1552.15,1990" fill="#5e5e5e" stroke="#000" stroke-width="1.1" stroke-linejoin="round"/>
<polygon points="1447.2,1979.84 1549.8,1979.84 1552.33,1990.4 1546.13,1995.8 1539.33,1990.4 1449.73,1990.4" fill="#5e5e5e" stroke="#000" stroke-width="1.1" stroke-linejoin="round"/>
<polygon points="1350.4,1979.48 1447.2,1979.48 1449.92,1990.8 1443.72,1996.2 1436.92,1990.8 1353.12,1990.8" fill="#5e5e5e" stroke="#000" stroke-width="1.1" stroke-linejoin="round"/>
<polygon points="1260.7,1979.12 1350.4,1979.12 1353.3,1991.2 1347.1,1996.6 1340.3,1991.2 1263.6,1991.2" fill="#5e5e5e" stroke="#000" stroke-width="1.1" stroke-linejoin="round"/>
<polygon points="1179.1,1978.76 1260.7,1978.76 1263.78,1991.6 1257.58,1997 1250.78,1991.6 1182.18,1991.6" fill="#5e5e5e" stroke="#000" stroke-width="1.1" stroke-linejoin="round"/>
<polygon points="1115,1978.4 1179.1,1978.4 1182.36,1992 1176.16,1997.4 1169.36,1992 1115,1992" fill="#5e5e5e" stroke="#000" stroke-width="1.1" stroke-linejoin="round"/>
<polygon points="980.8,1996.4 1002.9,1977.9 1115,1977.9 1115,1992.5 1023.3,1992.5 990.6,2007" fill="#ff0000" stroke="#000" stroke-width="1.1" stroke-linejoin="round"/>
<circle cx="983.4" cy="2004" r="8.2" fill="#000"/>
<text class="t" transform="translate(859 2004.1) scale(0.915 1)">DPS-C</text>
<g transform="translate(1128.4 1939.7) rotate(45)"><rect x="-24.6" y="-14" width="49.2" height="28" rx="2" fill="#fff" stroke="#000" stroke-width="1"/><text class="d" transform="scale(1.0 1)" y="7.6">20,2</text></g>
<path d="M1135.6 1992.9V2042.3" stroke="#000" stroke-width="1.6"/>
<rect x="1099.15" y="2046.9" width="72.9" height="29.3" rx="1.7" fill="#fff" stroke="#6e6e6e" stroke-width="1.15"/>
<text class="v" x="1099.87" y="2073.5">1280</text>
<g transform="translate(1196.7 1939.7) rotate(45)"><rect x="-24.6" y="-14" width="49.2" height="28" rx="2" fill="#fff" stroke="#000" stroke-width="1"/><text class="d" transform="scale(1.0 1)" y="7.6">21,5</text></g>
<path d="M1203.6 1992.9V2005.2" stroke="#000" stroke-width="1.6"/>
<rect x="1167.15" y="2009.8" width="72.9" height="29.3" rx="1.7" fill="#fff" stroke="#6e6e6e" stroke-width="1.15"/>
<text class="v" x="1167.87" y="2036.4">1180</text>
<g transform="translate(1273.7 1939.7) rotate(45)"><rect x="-24.6" y="-14" width="49.2" height="28" rx="2" fill="#fff" stroke="#000" stroke-width="1"/><text class="d" transform="scale(1.0 1)" y="7.6">22,9</text></g>
<path d="M1280.8 1992.9V2042.3" stroke="#000" stroke-width="1.6"/>
<rect x="1244.35" y="2046.9" width="72.9" height="29.3" rx="1.7" fill="#fff" stroke="#6e6e6e" stroke-width="1.15"/>
<text class="v" x="1245.07" y="2073.5">1080</text>
<g transform="translate(1358.3 1939.7) rotate(45)"><rect x="-24.6" y="-14" width="49.2" height="28" rx="2" fill="#fff" stroke="#000" stroke-width="1"/><text class="d" transform="scale(1.0 1)" y="7.6">24,5</text></g>
<path d="M1365.6 1992.9V2005.2" stroke="#000" stroke-width="1.6"/>
<rect x="1338.58" y="2009.8" width="54.04" height="29.3" rx="1.7" fill="#fff" stroke="#6e6e6e" stroke-width="1.15"/>
<text class="v" x="1339.16" y="2036.4">990</text>
<g transform="translate(1449.9 1939.7) rotate(45)"><rect x="-24.6" y="-14" width="49.2" height="28" rx="2" fill="#fff" stroke="#000" stroke-width="1"/><text class="d" transform="scale(1.0 1)" y="7.6">26,1</text></g>
<path d="M1457.4 1992.9V2042.3" stroke="#000" stroke-width="1.6"/>
<rect x="1430.38" y="2046.9" width="54.04" height="29.3" rx="1.7" fill="#fff" stroke="#6e6e6e" stroke-width="1.15"/>
<text class="v" x="1430.96" y="2073.5">910</text>
<g transform="translate(1548 1939.7) rotate(45)"><rect x="-24.6" y="-14" width="49.2" height="28" rx="2" fill="#fff" stroke="#000" stroke-width="1"/><text class="d" transform="scale(1.0 1)" y="7.6">27,9</text></g>
<path d="M1555 1992.9V2005.2" stroke="#000" stroke-width="1.6"/>
<rect x="1527.93" y="2009.8" width="54.15" height="29.3" rx="1.7" fill="#fff" stroke="#6e6e6e" stroke-width="1.15"/>
<text class="v" x="1528.61" y="2036.4">840</text>
<g transform="translate(1652.5 1939.7) rotate(45)"><rect x="-24.6" y="-14" width="49.2" height="28" rx="2" fill="#fff" stroke="#000" stroke-width="1"/><text class="d" transform="scale(1.0 1)" y="7.6">29,8</text></g>
<path d="M1659.7 1992.9V2042.3" stroke="#000" stroke-width="1.6"/>
<rect x="1632.79" y="2046.9" width="53.82" height="29.3" rx="1.7" fill="#fff" stroke="#6e6e6e" stroke-width="1.15"/>
<text class="v" x="1633.16" y="2073.5">780</text>
<g transform="translate(1768.8 1939.7) rotate(45)"><rect x="-24.6" y="-14" width="49.2" height="28" rx="2" fill="#fff" stroke="#000" stroke-width="1"/><text class="d" transform="scale(1.0 1)" y="7.6">32,0</text></g>
<path d="M1764.7 1995V2005.2" stroke="#000" stroke-width="1.6"/>
<rect x="1737.57" y="2009.8" width="54.26" height="29.3" rx="1.7" fill="#fff" stroke="#6e6e6e" stroke-width="1.15"/>
<text class="v" x="1738.36" y="2036.4">500</text>
<polygon points="1352.6,2182.7 1475.3,2182.7 1476.43,2187.4 1470.23,2192.9 1463.43,2187.4 1353.73,2187.4" fill="#d8d8d8" stroke="#000" stroke-width="1.1" stroke-linejoin="round"/>
<polygon points="1221.9,2182.1 1352.6,2182.1 1354.06,2188.2 1347.86,2193.7 1341.06,2188.2 1223.36,2188.2" fill="#d8d8d8" stroke="#000" stroke-width="1.1" stroke-linejoin="round"/>
<polygon points="1089.6,2180.9 1221.9,2180.9 1223.99,2189.6 1217.79,2195.1 1210.99,2189.6 1091.69,2189.6" fill="#5e5e5e" stroke="#000" stroke-width="1.1" stroke-linejoin="round"/>
<polygon points="960.1,2180.7 1089.6,2180.7 1091.9,2190.3 1085.7,2195.8 1078.9,2190.3 962.4,2190.3" fill="#5e5e5e" stroke="#000" stroke-width="1.1" stroke-linejoin="round"/>
<polygon points="839.4,2180.1 960.1,2180.1 962.64,2190.7 956.44,2196.2 949.64,2190.7 841.94,2190.7" fill="#5e5e5e" stroke="#000" stroke-width="1.1" stroke-linejoin="round"/>
<polygon points="727,2179.6 839.4,2179.6 842.16,2191.1 835.96,2196.6 829.16,2191.1 729.76,2191.1" fill="#5e5e5e" stroke="#000" stroke-width="1.1" stroke-linejoin="round"/>
<polygon points="614.9,2179.1 727,2179.1 729.98,2191.5 723.78,2197 716.98,2191.5 617.88,2191.5" fill="#5e5e5e" stroke="#000" stroke-width="1.1" stroke-linejoin="round"/>
<polygon points="509.8,2178.7 614.9,2178.7 618.07,2191.9 611.87,2197.4 605.07,2191.9 512.97,2191.9" fill="#5e5e5e" stroke="#000" stroke-width="1.1" stroke-linejoin="round"/>
<polygon points="409.7,2178.3 509.8,2178.3 513.16,2192.3 506.96,2197.8 500.16,2192.3 413.06,2192.3" fill="#5e5e5e" stroke="#000" stroke-width="1.1" stroke-linejoin="round"/>
<polygon points="317.4,2178 409.7,2178 413.23,2192.7 407.03,2198.2 400.23,2192.7 320.93,2192.7" fill="#5e5e5e" stroke="#000" stroke-width="1.1" stroke-linejoin="round"/>
<polygon points="232.9,2177.6 317.4,2177.6 321.14,2193.2 314.94,2198.7 308.14,2193.2 236.8,2193.2" fill="#5e5e5e" stroke="#000" stroke-width="1.1" stroke-linejoin="round"/>
<polygon points="40.8,2218.5 74.4,2203.9 90.6,2203.3 91.6,2215.7" fill="#5e5e5e" stroke="#000" stroke-width="0.8" stroke-linejoin="round"/>
<polygon points="91.6,2206.1 138.8,2203.4 142.6,2209.7 91.6,2212.9" fill="#fff" stroke="#000" stroke-width="0.9" stroke-linejoin="round"/>
<polygon points="128.4,2176.9 232.9,2176.9 236.8,2193.6 137.5,2193.6" fill="#ff0000" stroke="#000" stroke-width="1.1" stroke-linejoin="round"/>
<polygon points="2,2234.6 12.7,2202 107.1,2167.6 128.4,2171.6 138.2,2189.3 132.6,2190.7 113.4,2184.7 33.1,2221.5 32.6,2229.3 3.6,2238.8" fill="#ff0000" stroke="#000" stroke-width="1.1" stroke-linejoin="round"/>
<polygon points="122.94,2178.53 142.89,2208.05 147.11,2205.35 128.66,2174.87" fill="#000" stroke="#000" stroke-width="0.3" stroke-linejoin="round"/>
<circle cx="125.8" cy="2176.7" r="3.4"/><circle cx="145" cy="2206.7" r="2.8"/>
<path d="M147.2 2194.9 L146.4 2207.2" stroke="#000" stroke-width="3.4" stroke-linecap="round" fill="none"/>
<polygon points="128.6,2171.9 131,2171.3 138.6,2188.7 136.2,2189.7" fill="#ff0000" stroke="#000" stroke-width="0.7" stroke-linejoin="round"/>
<text class="t" transform="translate(4 2140.47) scale(1.035 1)">H-V1,V2</text>
<g transform="translate(273.7 2130.97) rotate(45)"><rect x="-24.6" y="-14" width="49.2" height="28" rx="2" fill="#fff" stroke="#000" stroke-width="1"/><text class="d" transform="scale(1.04 1)" y="7.6">4,6</text></g>
<path d="M281 2194.6V2244.8" stroke="#000" stroke-width="1.6"/>
<rect x="234.82" y="2249.4" width="92.36" height="29.3" rx="1.7" fill="#fff" stroke="#6e6e6e" stroke-width="1.15"/>
<text class="v" x="236.43" y="2276">13300</text>
<g transform="translate(351.7 2130.97) rotate(45)"><rect x="-24.6" y="-14" width="49.2" height="28" rx="2" fill="#fff" stroke="#000" stroke-width="1"/><text class="d" transform="scale(1.04 1)" y="7.6">6,0</text></g>
<path d="M359 2194.6V2207.8" stroke="#000" stroke-width="1.6"/>
<rect x="322.05" y="2212.4" width="73.89" height="29.3" rx="1.7" fill="#fff" stroke="#6e6e6e" stroke-width="1.15"/>
<text class="v" x="323.72" y="2239">9800</text>
<g transform="translate(438.4 2130.97) rotate(45)"><rect x="-24.6" y="-14" width="49.2" height="28" rx="2" fill="#fff" stroke="#000" stroke-width="1"/><text class="d" transform="scale(1.04 1)" y="7.6">7,6</text></g>
<path d="M445.7 2194.6V2244.8" stroke="#000" stroke-width="1.6"/>
<rect x="408.86" y="2249.4" width="73.67" height="29.3" rx="1.7" fill="#fff" stroke="#6e6e6e" stroke-width="1.15"/>
<text class="v" x="410.32" y="2276">7500</text>
<g transform="translate(532 2130.97) rotate(45)"><rect x="-24.6" y="-14" width="49.2" height="28" rx="2" fill="#fff" stroke="#000" stroke-width="1"/><text class="d" transform="scale(1.04 1)" y="7.6">9,3</text></g>
<path d="M539.3 2194.6V2207.8" stroke="#000" stroke-width="1.6"/>
<rect x="502.24" y="2212.4" width="74.11" height="29.3" rx="1.7" fill="#fff" stroke="#6e6e6e" stroke-width="1.15"/>
<text class="v" x="504.12" y="2239">5800</text>
<g transform="translate(632.5 2130.97) rotate(45)"><rect x="-24.6" y="-14" width="49.2" height="28" rx="2" fill="#fff" stroke="#000" stroke-width="1"/><text class="d" transform="scale(1.0 1)" y="7.6">11,2</text></g>
<path d="M639.8 2194.6V2244.8" stroke="#000" stroke-width="1.6"/>
<rect x="602.47" y="2249.4" width="74.66" height="29.3" rx="1.7" fill="#fff" stroke="#6e6e6e" stroke-width="1.15"/>
<text class="v" x="604.87" y="2276">4700</text>
<g transform="translate(739.7 2130.97) rotate(45)"><rect x="-24.6" y="-14" width="49.2" height="28" rx="2" fill="#fff" stroke="#000" stroke-width="1"/><text class="d" transform="scale(1.0 1)" y="7.6">13,1</text></g>
<path d="M747 2194.6V2207.8" stroke="#000" stroke-width="1.6"/>
<rect x="709.83" y="2212.4" width="74.33" height="29.3" rx="1.7" fill="#fff" stroke="#6e6e6e" stroke-width="1.15"/>
<text class="v" x="711.92" y="2239">3850</text>
<g transform="translate(847.1 2130.97) rotate(45)"><rect x="-24.6" y="-14" width="49.2" height="28" rx="2" fill="#fff" stroke="#000" stroke-width="1"/><text class="d" transform="scale(1.0 1)" y="7.6">15,1</text></g>
<path d="M854.4 2194.6V2244.8" stroke="#000" stroke-width="1.6"/>
<rect x="817.23" y="2249.4" width="74.33" height="29.3" rx="1.7" fill="#fff" stroke="#6e6e6e" stroke-width="1.15"/>
<text class="v" x="819.32" y="2276">3200</text>
<g transform="translate(962.3 2130.97) rotate(45)"><rect x="-24.6" y="-14" width="49.2" height="28" rx="2" fill="#fff" stroke="#000" stroke-width="1"/><text class="d" transform="scale(1.0 1)" y="7.6">17,2</text></g>
<path d="M969.6 2194.6V2207.8" stroke="#000" stroke-width="1.6"/>
<rect x="932.65" y="2212.4" width="73.89" height="29.3" rx="1.7" fill="#fff" stroke="#6e6e6e" stroke-width="1.15"/>
<text class="v" x="934.32" y="2239">2750</text>
<g transform="translate(1086.2 2130.97) rotate(45)"><rect x="-24.6" y="-14" width="49.2" height="28" rx="2" fill="#fff" stroke="#000" stroke-width="1"/><text class="d" transform="scale(1.0 1)" y="7.6">19,5</text></g>
<path d="M1093.5 2194.6V2244.8" stroke="#000" stroke-width="1.6"/>
<rect x="1056.55" y="2249.4" width="73.89" height="29.3" rx="1.7" fill="#fff" stroke="#6e6e6e" stroke-width="1.15"/>
<text class="v" x="1058.22" y="2276">2400</text>
<g transform="translate(1215.3 2130.97) rotate(45)"><rect x="-24.6" y="-14" width="49.2" height="28" rx="2" fill="#fff" stroke="#000" stroke-width="1"/><text class="d" transform="scale(1.0 1)" y="7.6">21,8</text></g>
<path d="M1222.6 2194.6V2207.8" stroke="#000" stroke-width="1.6"/>
<rect x="1185.65" y="2212.4" width="73.89" height="29.3" rx="1.7" fill="#fff" stroke="#6e6e6e" stroke-width="1.15"/>
<text class="v" x="1187.32" y="2239">2150</text>
<g transform="translate(1358.6 2130.97) rotate(45)"><rect x="-24.6" y="-14" width="49.2" height="28" rx="2" fill="#fff" stroke="#000" stroke-width="1"/><text class="d" transform="scale(1.0 1)" y="7.6">24,5</text></g>
<path d="M1365.9 2201.1V2244.8" stroke="#000" stroke-width="1.6"/>
<rect x="1329.45" y="2249.4" width="72.9" height="29.3" rx="1.7" fill="#fff" stroke="#6e6e6e" stroke-width="1.15"/>
<text class="v" x="1330.17" y="2276">1750</text>
<g transform="translate(1479.7 2130.97) rotate(45)"><rect x="-24.6" y="-14" width="49.2" height="28" rx="2" fill="#fff" stroke="#000" stroke-width="1"/><text class="d" transform="scale(1.0 1)" y="7.6">26,7</text></g>
<path d="M1487 2201.1V2207.8" stroke="#000" stroke-width="1.6"/>
<rect x="1450.55" y="2212.4" width="72.9" height="29.3" rx="1.7" fill="#fff" stroke="#6e6e6e" stroke-width="1.15"/>
<text class="v" x="1451.27" y="2239">1200</text>
</svg>
</body></html>
